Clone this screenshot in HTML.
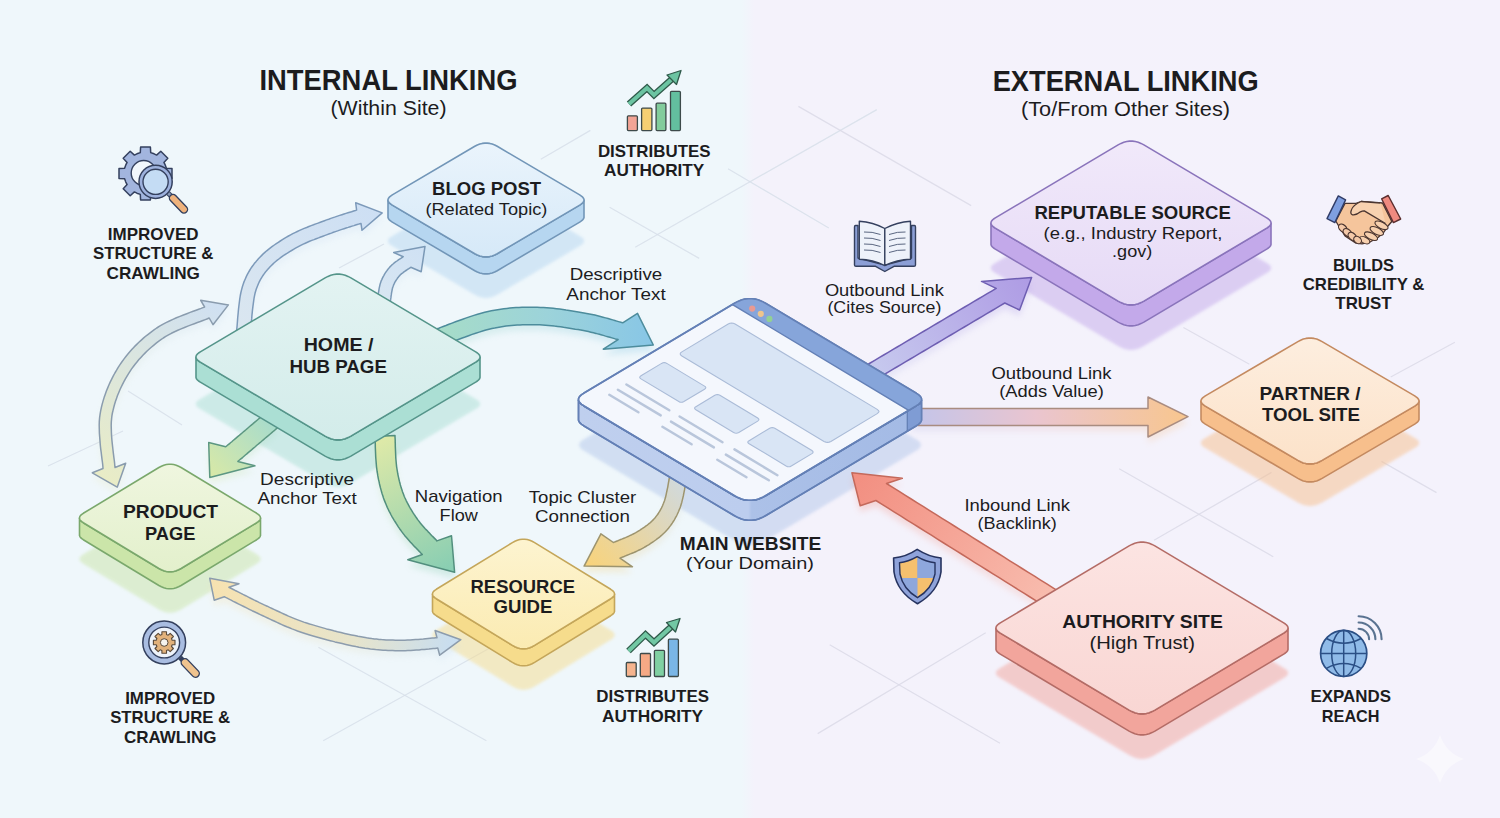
<!DOCTYPE html>
<html><head><meta charset="utf-8"><style>
html,body{margin:0;padding:0;width:1500px;height:818px;overflow:hidden;background:#eef6fb}
svg{display:block}
text{font-family:"Liberation Sans",sans-serif}
</style></head><body>
<svg width="1500" height="818" viewBox="0 0 1500 818">
<defs>
<filter id="blur8" x="-30%" y="-30%" width="160%" height="160%"><feGaussianBlur stdDeviation="7"/></filter>
<filter id="blur3" x="-30%" y="-30%" width="160%" height="160%"><feGaussianBlur stdDeviation="3"/></filter>
<filter id="blur2" x="-30%" y="-30%" width="160%" height="160%"><feGaussianBlur stdDeviation="1.8"/></filter>
<linearGradient id="bgg" x1="0" y1="0" x2="1500" y2="0" gradientUnits="userSpaceOnUse"><stop offset="0" stop-color="#eff7fb"/><stop offset="0.494" stop-color="#eff7fb"/><stop offset="0.503" stop-color="#f4f2fb"/><stop offset="1" stop-color="#f4f2fc"/></linearGradient>
<linearGradient id="ag1" gradientUnits="userSpaceOnUse" x1="244" y1="330" x2="382" y2="213"><stop offset="0" stop-color="#dae6f0"/><stop offset="1" stop-color="#cddff4"/></linearGradient>
<linearGradient id="ag2" gradientUnits="userSpaceOnUse" x1="384" y1="300" x2="425" y2="246"><stop offset="0" stop-color="#d8e6f2"/><stop offset="1" stop-color="#cfe1f4"/></linearGradient>
<linearGradient id="ag3" gradientUnits="userSpaceOnUse" x1="440" y1="330" x2="653" y2="340"><stop offset="0" stop-color="#a6dcc8"/><stop offset="0.5" stop-color="#9cd3da"/><stop offset="1" stop-color="#88c6e6"/></linearGradient>
<linearGradient id="ag4" gradientUnits="userSpaceOnUse" x1="270" y1="422" x2="210" y2="478"><stop offset="0" stop-color="#a9dccb"/><stop offset="1" stop-color="#d9e9a6"/></linearGradient>
<linearGradient id="ag5" gradientUnits="userSpaceOnUse" x1="385" y1="440" x2="455" y2="572"><stop offset="0" stop-color="#dde9a8"/><stop offset="1" stop-color="#86cdb3"/></linearGradient>
<linearGradient id="ag6" gradientUnits="userSpaceOnUse" x1="210" y1="578" x2="461" y2="640"><stop offset="0" stop-color="#f7e2b0"/><stop offset="0.6" stop-color="#e6e4cc"/><stop offset="1" stop-color="#c6ddf2"/></linearGradient>
<linearGradient id="ag7" gradientUnits="userSpaceOnUse" x1="228" y1="305" x2="117" y2="487"><stop offset="0" stop-color="#cfe0f3"/><stop offset="1" stop-color="#e9ecc6"/></linearGradient>
<linearGradient id="ag8" gradientUnits="userSpaceOnUse" x1="676" y1="483" x2="590" y2="566"><stop offset="0" stop-color="#d2d9d9"/><stop offset="1" stop-color="#f8d37c"/></linearGradient>
<linearGradient id="ag9" gradientUnits="userSpaceOnUse" x1="878" y1="368" x2="1032" y2="277"><stop offset="0" stop-color="#c6c8ee"/><stop offset="1" stop-color="#ae9be4"/></linearGradient>
<linearGradient id="ag10" gradientUnits="userSpaceOnUse" x1="912" y1="417" x2="1188" y2="417"><stop offset="0" stop-color="#c3c5ea"/><stop offset="0.45" stop-color="#eac5cf"/><stop offset="1" stop-color="#f8c68e"/></linearGradient>
<linearGradient id="ag11" gradientUnits="userSpaceOnUse" x1="1050" y1="597" x2="852" y2="473"><stop offset="0" stop-color="#f8bcae"/><stop offset="1" stop-color="#f28e80"/></linearGradient>
<linearGradient id="tg12" x1="0" y1="0" x2="0" y2="1"><stop offset="0" stop-color="#eaf4fc"/><stop offset="1" stop-color="#d6e9f8"/></linearGradient>
<linearGradient id="tg13" x1="0" y1="0" x2="0" y2="1"><stop offset="0" stop-color="#e3f3f2"/><stop offset="1" stop-color="#d3ecea"/></linearGradient>
<linearGradient id="tg14" x1="0" y1="0" x2="0" y2="1"><stop offset="0" stop-color="#eff6df"/><stop offset="1" stop-color="#e3f0cc"/></linearGradient>
<linearGradient id="tg15" x1="0" y1="0" x2="0" y2="1"><stop offset="0" stop-color="#fdf4d0"/><stop offset="1" stop-color="#fbebb2"/></linearGradient>
<linearGradient id="tg16" x1="0" y1="0" x2="0" y2="1"><stop offset="0" stop-color="#f1e9fa"/><stop offset="1" stop-color="#e6daf6"/></linearGradient>
<linearGradient id="tg17" x1="0" y1="0" x2="0" y2="1"><stop offset="0" stop-color="#fdeedf"/><stop offset="1" stop-color="#fce2c9"/></linearGradient>
<linearGradient id="tg18" x1="0" y1="0" x2="0" y2="1"><stop offset="0" stop-color="#fce4e2"/><stop offset="1" stop-color="#f9d6d3"/></linearGradient>
<linearGradient id="ag19" gradientUnits="userSpaceOnUse" x1="578" y1="420" x2="922" y2="420"><stop offset="0" stop-color="#bfcfee"/><stop offset="0.495" stop-color="#bccdee"/><stop offset="0.505" stop-color="#acc1e8"/><stop offset="1" stop-color="#a3bae5"/></linearGradient>
</defs>
<rect x="0" y="0" width="1500" height="818" fill="url(#bgg)"/>
<line x1="540.8" y1="159.2" x2="590.4" y2="130.4" stroke="#d8e0ea" stroke-width="1.3" opacity="0.85"/>
<line x1="609.6" y1="207.2" x2="699.2" y2="258.4" stroke="#d8e0ea" stroke-width="1.3" opacity="0.85"/>
<line x1="635.2" y1="247.2" x2="876.8" y2="109.6" stroke="#d8e0ea" stroke-width="1.3" opacity="0.85"/>
<line x1="728" y1="168.8" x2="828.8" y2="228" stroke="#d8e0ea" stroke-width="1.3" opacity="0.85"/>
<line x1="798.4" y1="106.4" x2="971.2" y2="205.6" stroke="#dcdbe8" stroke-width="1.3" opacity="0.85"/>
<line x1="339" y1="268" x2="384" y2="244" stroke="#d8e0ea" stroke-width="1.3" opacity="0.85"/>
<line x1="48" y1="466" x2="123" y2="431" stroke="#d8e0ea" stroke-width="1.3" opacity="0.85"/>
<line x1="128" y1="391" x2="182" y2="425" stroke="#d8e0ea" stroke-width="1.3" opacity="0.85"/>
<line x1="323.2" y1="740.8" x2="491.2" y2="647.2" stroke="#d8e0ea" stroke-width="1.3" opacity="0.85"/>
<line x1="318.4" y1="647.2" x2="486.4" y2="740.8" stroke="#d8e0ea" stroke-width="1.3" opacity="0.85"/>
<line x1="817.7" y1="733.6" x2="985.7" y2="632.8" stroke="#dcdbe8" stroke-width="1.3" opacity="0.85"/>
<line x1="829.7" y1="644.8" x2="1000" y2="743.2" stroke="#dcdbe8" stroke-width="1.3" opacity="0.85"/>
<line x1="1183.4" y1="327.5" x2="1249.4" y2="364.2" stroke="#dcdbe8" stroke-width="1.3" opacity="0.85"/>
<line x1="1390.7" y1="377" x2="1454.9" y2="342.2" stroke="#dcdbe8" stroke-width="1.3" opacity="0.85"/>
<line x1="1381.5" y1="461.4" x2="1436.5" y2="492.6" stroke="#dcdbe8" stroke-width="1.3" opacity="0.85"/>
<line x1="1119.2" y1="468.7" x2="1273.3" y2="556.8" stroke="#dcdbe8" stroke-width="1.3" opacity="0.85"/>
<line x1="1154" y1="540.3" x2="1271.5" y2="472.4" stroke="#dcdbe8" stroke-width="1.3" opacity="0.85"/>
<path d="M474.8 187.3 L477.3 186.0 L479.8 185.1 L482.3 184.4 L484.8 184.1 L487.2 184.1 L489.7 184.4 L492.2 185.1 L494.7 186.0 L497.2 187.3 L579.7 235.9 L581.4 237.1 L582.7 238.2 L583.5 239.3 L584.0 240.4 L584.0 241.6 L583.5 242.7 L582.7 243.8 L581.4 244.9 L579.7 246.1 L497.2 294.7 L494.7 296.0 L492.2 296.9 L489.7 297.6 L487.2 297.9 L484.8 297.9 L482.3 297.6 L479.8 296.9 L477.3 296.0 L474.8 294.7 L392.3 246.1 L390.6 244.9 L389.3 243.8 L388.5 242.7 L388.0 241.6 L388.0 240.4 L388.5 239.3 L389.3 238.2 L390.6 237.1 L392.3 235.9 Z" fill="#b6d6f0" opacity="0.5" filter="url(#blur2)"/>
<path d="M325.1 324.9 L328.0 323.4 L330.8 322.3 L333.7 321.5 L336.6 321.1 L339.4 321.1 L342.3 321.5 L345.2 322.3 L348.0 323.4 L350.9 324.9 L475.7 398.9 L477.4 400.0 L478.7 401.2 L479.6 402.3 L480.0 403.4 L480.0 404.6 L479.6 405.7 L478.7 406.8 L477.4 408.0 L475.7 409.1 L350.9 483.1 L348.0 484.6 L345.2 485.7 L342.3 486.5 L339.4 486.9 L336.6 486.9 L333.7 486.5 L330.8 485.7 L328.0 484.6 L325.1 483.1 L200.3 409.1 L198.6 408.0 L197.3 406.8 L196.4 405.7 L196.0 404.6 L196.0 403.4 L196.4 402.3 L197.3 401.2 L198.6 400.0 L200.3 398.9 Z" fill="#abdfd4" opacity="0.5" filter="url(#blur2)"/>
<path d="M158.9 508.5 L161.4 507.2 L163.8 506.2 L166.3 505.5 L168.8 505.2 L171.2 505.2 L173.7 505.5 L176.2 506.2 L178.6 507.2 L181.1 508.5 L256.7 554.3 L258.2 555.4 L259.4 556.4 L260.1 557.4 L260.5 558.5 L260.5 559.5 L260.1 560.6 L259.4 561.6 L258.2 562.6 L256.7 563.7 L181.1 609.5 L178.6 610.8 L176.2 611.8 L173.7 612.5 L171.2 612.8 L168.8 612.8 L166.3 612.5 L163.8 611.8 L161.4 610.8 L158.9 609.5 L83.3 563.7 L81.8 562.6 L80.6 561.6 L79.9 560.6 L79.5 559.5 L79.5 558.5 L79.9 557.4 L80.6 556.4 L81.8 555.4 L83.3 554.3 Z" fill="#cbe5a9" opacity="0.5" filter="url(#blur2)"/>
<path d="M512.4 583.6 L514.9 582.2 L517.3 581.2 L519.8 580.5 L522.3 580.2 L524.7 580.2 L527.2 580.5 L529.7 581.2 L532.1 582.2 L534.6 583.6 L610.7 630.3 L612.2 631.3 L613.4 632.4 L614.1 633.4 L614.5 634.5 L614.5 635.5 L614.1 636.6 L613.4 637.6 L612.2 638.7 L610.7 639.7 L534.6 686.4 L532.1 687.8 L529.7 688.8 L527.2 689.5 L524.7 689.8 L522.3 689.8 L519.8 689.5 L517.3 688.8 L514.9 687.8 L512.4 686.4 L436.3 639.7 L434.8 638.7 L433.6 637.6 L432.9 636.6 L432.5 635.5 L432.5 634.5 L432.9 633.4 L433.6 632.4 L434.8 631.3 L436.3 630.3 Z" fill="#f6dc8c" opacity="0.5" filter="url(#blur2)"/>
<path d="M1118.1 189.9 L1121.0 188.4 L1123.8 187.3 L1126.7 186.5 L1129.6 186.1 L1132.4 186.1 L1135.3 186.5 L1138.2 187.3 L1141.0 188.4 L1143.9 189.9 L1266.7 262.9 L1268.4 264.0 L1269.7 265.2 L1270.6 266.3 L1271.0 267.4 L1271.0 268.6 L1270.6 269.7 L1269.7 270.8 L1268.4 272.0 L1266.7 273.1 L1143.9 346.1 L1141.0 347.6 L1138.2 348.7 L1135.3 349.5 L1132.4 349.9 L1129.6 349.9 L1126.7 349.5 L1123.8 348.7 L1121.0 347.6 L1118.1 346.1 L995.3 273.1 L993.6 272.0 L992.3 270.8 L991.4 269.7 L991.0 268.6 L991.0 267.4 L991.4 266.3 L992.3 265.2 L993.6 264.0 L995.3 262.9 Z" fill="#c3a9ea" opacity="0.5" filter="url(#blur2)"/>
<path d="M1297.9 383.6 L1300.6 382.2 L1303.3 381.1 L1306.0 380.4 L1308.7 380.1 L1311.3 380.1 L1314.0 380.4 L1316.7 381.1 L1319.4 382.2 L1322.1 383.6 L1414.7 437.9 L1416.4 439.1 L1417.7 440.2 L1418.5 441.3 L1419.0 442.4 L1419.0 443.6 L1418.5 444.7 L1417.7 445.8 L1416.4 446.9 L1414.7 448.1 L1322.1 502.4 L1319.4 503.8 L1316.7 504.9 L1314.0 505.6 L1311.3 505.9 L1308.7 505.9 L1306.0 505.6 L1303.3 504.9 L1300.6 503.8 L1297.9 502.4 L1205.3 448.1 L1203.6 446.9 L1202.3 445.8 L1201.5 444.7 L1201.0 443.6 L1201.0 442.4 L1201.5 441.3 L1202.3 440.2 L1203.6 439.1 L1205.3 437.9 Z" fill="#f7bf8c" opacity="0.5" filter="url(#blur2)"/>
<path d="M1129.1 590.9 L1132.0 589.4 L1134.8 588.3 L1137.7 587.5 L1140.6 587.1 L1143.4 587.1 L1146.3 587.5 L1149.2 588.3 L1152.0 589.4 L1154.9 590.9 L1283.7 667.9 L1285.4 669.0 L1286.7 670.2 L1287.6 671.3 L1288.0 672.4 L1288.0 673.6 L1287.6 674.7 L1286.7 675.8 L1285.4 677.0 L1283.7 678.1 L1154.9 755.1 L1152.0 756.6 L1149.2 757.7 L1146.3 758.5 L1143.4 758.9 L1140.6 758.9 L1137.7 758.5 L1134.8 757.7 L1132.0 756.6 L1129.1 755.1 L1000.3 678.1 L998.6 677.0 L997.3 675.8 L996.4 674.7 L996.0 673.6 L996.0 672.4 L996.4 671.3 L997.3 670.2 L998.6 669.0 L1000.3 667.9 Z" fill="#f2a59c" opacity="0.5" filter="url(#blur2)"/>
<path d="M734.5 349.2 L738.0 347.4 L741.4 346.0 L744.8 345.1 L748.3 344.7 L751.7 344.7 L755.2 345.1 L758.6 346.0 L762.0 347.4 L765.5 349.2 L915.7 438.9 L917.7 440.2 L919.3 441.6 L920.3 443.0 L920.8 444.3 L920.8 445.7 L920.3 447.0 L919.3 448.4 L917.7 449.8 L915.7 451.1 L765.5 540.8 L762.0 542.6 L758.6 544.0 L755.2 544.9 L751.7 545.3 L748.3 545.3 L744.8 544.9 L741.4 544.0 L738.0 542.6 L734.5 540.8 L584.3 451.1 L582.3 449.8 L580.7 448.4 L579.7 447.0 L579.2 445.7 L579.2 444.3 L579.7 443.0 L580.7 441.6 L582.3 440.2 L584.3 438.9 Z" fill="#b4c7ea" opacity="0.5" filter="url(#blur2)"/>
<path d="M250.5 338.8 L250.6 337.2 L250.8 335.2 L251.0 333.0 L251.2 330.5 L251.4 327.8 L251.7 324.9 L251.9 321.9 L252.2 318.9 L252.5 315.8 L252.9 312.7 L253.3 309.6 L253.7 306.7 L254.1 303.9 L254.6 301.3 L255.1 299.0 L255.7 297.0 L256.3 295.1 L257.0 293.2 L257.7 291.5 L258.4 289.8 L259.1 288.2 L259.9 286.7 L260.7 285.2 L261.5 283.8 L262.4 282.4 L263.3 281.0 L264.3 279.6 L265.3 278.3 L266.4 276.9 L267.6 275.6 L268.8 274.2 L270.1 272.8 L271.4 271.5 L272.8 270.1 L274.2 268.8 L275.7 267.5 L277.3 266.2 L278.9 265.0 L280.6 263.7 L282.3 262.4 L284.1 261.2 L286.0 260.0 L287.8 258.8 L289.7 257.6 L291.6 256.5 L293.5 255.3 L295.5 254.2 L297.4 253.1 L299.3 252.1 L301.2 251.1 L303.2 250.1 L305.3 249.2 L307.4 248.3 L309.6 247.3 L311.8 246.4 L314.0 245.6 L316.2 244.7 L318.5 243.9 L320.7 243.0 L322.9 242.2 L325.1 241.4 L327.2 240.6 L329.4 239.8 L331.4 239.1 L333.4 238.3 L335.5 237.6 L337.6 236.9 L339.7 236.1 L341.9 235.4 L344.0 234.7 L346.1 234.0 L348.2 233.4 L350.2 232.7 L352.1 232.1 L353.9 231.6 L355.6 231.0 L357.2 230.5 L358.6 230.1 L359.9 229.7 L361.0 229.4 L362.0 236.3 L382.2 218.9 L355.7 208.8 L356.6 216.0 L355.6 216.4 L354.4 216.7 L353.0 217.2 L351.5 217.7 L349.8 218.2 L347.9 218.8 L346.0 219.4 L344.0 220.0 L341.9 220.7 L339.7 221.4 L337.5 222.1 L335.3 222.9 L333.1 223.6 L330.8 224.4 L328.7 225.2 L326.6 225.9 L324.5 226.7 L322.4 227.5 L320.3 228.3 L318.1 229.1 L315.8 229.9 L313.5 230.8 L311.2 231.6 L308.9 232.5 L306.6 233.5 L304.2 234.4 L301.9 235.4 L299.6 236.4 L297.3 237.5 L295.0 238.6 L292.8 239.7 L290.6 240.9 L288.5 242.0 L286.5 243.2 L284.4 244.4 L282.4 245.7 L280.3 247.0 L278.3 248.3 L276.3 249.6 L274.3 251.0 L272.3 252.4 L270.4 253.8 L268.5 255.3 L266.7 256.8 L264.9 258.4 L263.2 259.9 L261.5 261.6 L259.9 263.2 L258.4 264.8 L257.0 266.4 L255.7 268.0 L254.3 269.6 L253.1 271.3 L251.8 273.0 L250.7 274.7 L249.6 276.5 L248.5 278.3 L247.5 280.2 L246.5 282.1 L245.6 284.2 L244.7 286.2 L243.8 288.4 L243.1 290.6 L242.3 293.0 L241.6 295.6 L240.9 298.5 L240.3 301.5 L239.8 304.6 L239.4 307.8 L239.0 311.0 L238.6 314.3 L238.3 317.5 L238.0 320.7 L237.7 323.7 L237.5 326.6 L237.3 329.3 L237.1 331.8 L236.9 333.9 L236.7 335.7 L236.5 337.2 Z" fill="url(#ag1)" opacity="0.3" filter="url(#blur3)"/><path d="M250.5 332.8 L250.6 331.2 L250.8 329.2 L251.0 327.0 L251.2 324.5 L251.4 321.8 L251.7 318.9 L251.9 315.9 L252.2 312.9 L252.5 309.8 L252.9 306.7 L253.3 303.6 L253.7 300.7 L254.1 297.9 L254.6 295.3 L255.1 293.0 L255.7 291.0 L256.3 289.1 L257.0 287.2 L257.7 285.5 L258.4 283.8 L259.1 282.2 L259.9 280.7 L260.7 279.2 L261.5 277.8 L262.4 276.4 L263.3 275.0 L264.3 273.6 L265.3 272.3 L266.4 270.9 L267.6 269.6 L268.8 268.2 L270.1 266.8 L271.4 265.5 L272.8 264.1 L274.2 262.8 L275.7 261.5 L277.3 260.2 L278.9 259.0 L280.6 257.7 L282.3 256.4 L284.1 255.2 L286.0 254.0 L287.8 252.8 L289.7 251.6 L291.6 250.5 L293.5 249.3 L295.5 248.2 L297.4 247.1 L299.3 246.1 L301.2 245.1 L303.2 244.1 L305.3 243.2 L307.4 242.3 L309.6 241.3 L311.8 240.4 L314.0 239.6 L316.2 238.7 L318.5 237.9 L320.7 237.0 L322.9 236.2 L325.1 235.4 L327.2 234.6 L329.4 233.8 L331.4 233.1 L333.4 232.3 L335.5 231.6 L337.6 230.9 L339.7 230.1 L341.9 229.4 L344.0 228.7 L346.1 228.0 L348.2 227.4 L350.2 226.7 L352.1 226.1 L353.9 225.6 L355.6 225.0 L357.2 224.5 L358.6 224.1 L359.9 223.7 L361.0 223.4 L362.0 230.3 L382.2 212.9 L355.7 202.8 L356.6 210.0 L355.6 210.4 L354.4 210.7 L353.0 211.2 L351.5 211.7 L349.8 212.2 L347.9 212.8 L346.0 213.4 L344.0 214.0 L341.9 214.7 L339.7 215.4 L337.5 216.1 L335.3 216.9 L333.1 217.6 L330.8 218.4 L328.7 219.2 L326.6 219.9 L324.5 220.7 L322.4 221.5 L320.3 222.3 L318.1 223.1 L315.8 223.9 L313.5 224.8 L311.2 225.6 L308.9 226.5 L306.6 227.5 L304.2 228.4 L301.9 229.4 L299.6 230.4 L297.3 231.5 L295.0 232.6 L292.8 233.7 L290.6 234.9 L288.5 236.0 L286.5 237.2 L284.4 238.4 L282.4 239.7 L280.3 241.0 L278.3 242.3 L276.3 243.6 L274.3 245.0 L272.3 246.4 L270.4 247.8 L268.5 249.3 L266.7 250.8 L264.9 252.4 L263.2 253.9 L261.5 255.6 L259.9 257.2 L258.4 258.8 L257.0 260.4 L255.7 262.0 L254.3 263.6 L253.1 265.3 L251.8 267.0 L250.7 268.7 L249.6 270.5 L248.5 272.3 L247.5 274.2 L246.5 276.1 L245.6 278.2 L244.7 280.2 L243.8 282.4 L243.1 284.6 L242.3 287.0 L241.6 289.6 L240.9 292.5 L240.3 295.5 L239.8 298.6 L239.4 301.8 L239.0 305.0 L238.6 308.3 L238.3 311.5 L238.0 314.7 L237.7 317.7 L237.5 320.6 L237.3 323.3 L237.1 325.8 L236.9 327.9 L236.7 329.7 L236.5 331.2 Z" fill="url(#ag1)" stroke="#7d9aba" stroke-width="1.5" stroke-linejoin="round"/>
<path d="M390.4 307.1 L390.5 306.4 L390.6 305.7 L390.7 304.8 L390.9 303.9 L391.0 302.9 L391.1 301.9 L391.3 300.9 L391.4 299.8 L391.6 298.7 L391.8 297.6 L392.0 296.6 L392.2 295.5 L392.4 294.6 L392.6 293.7 L392.9 292.9 L393.1 292.3 L393.4 291.6 L393.7 290.8 L394.0 290.1 L394.4 289.3 L394.7 288.6 L395.1 287.9 L395.5 287.2 L396.0 286.5 L396.4 285.8 L396.9 285.1 L397.3 284.5 L397.8 283.8 L398.3 283.2 L398.8 282.6 L399.3 282.0 L399.8 281.4 L400.2 280.9 L400.8 280.4 L401.4 279.9 L402.1 279.3 L402.8 278.8 L403.6 278.2 L404.4 277.6 L405.2 277.0 L406.0 276.5 L406.8 276.0 L407.6 275.4 L408.3 275.0 L409.0 274.5 L409.7 274.1 L410.3 273.6 L410.8 273.3 L421.2 277.7 L425.0 252.4 L393.7 258.5 L403.2 262.7 L402.8 263.0 L402.4 263.3 L401.9 263.6 L401.2 264.1 L400.4 264.6 L399.6 265.1 L398.7 265.7 L397.8 266.3 L396.9 267.0 L395.9 267.7 L394.9 268.4 L393.9 269.2 L393.0 270.0 L392.0 270.8 L391.1 271.7 L390.2 272.6 L389.5 273.4 L388.8 274.3 L388.1 275.1 L387.4 276.0 L386.8 276.9 L386.1 277.8 L385.5 278.7 L384.9 279.6 L384.3 280.6 L383.8 281.6 L383.2 282.6 L382.7 283.6 L382.2 284.6 L381.8 285.6 L381.3 286.6 L380.9 287.7 L380.5 288.9 L380.1 290.2 L379.8 291.5 L379.5 292.8 L379.2 294.1 L379.0 295.4 L378.8 296.6 L378.6 297.8 L378.4 299.0 L378.2 300.2 L378.1 301.2 L378.0 302.2 L377.9 303.1 L377.8 303.8 L377.7 304.4 L377.6 304.9 Z" fill="url(#ag2)" opacity="0.3" filter="url(#blur3)"/><path d="M390.4 301.1 L390.5 300.4 L390.6 299.7 L390.7 298.8 L390.9 297.9 L391.0 296.9 L391.1 295.9 L391.3 294.9 L391.4 293.8 L391.6 292.7 L391.8 291.6 L392.0 290.6 L392.2 289.5 L392.4 288.6 L392.6 287.7 L392.9 286.9 L393.1 286.3 L393.4 285.6 L393.7 284.8 L394.0 284.1 L394.4 283.3 L394.7 282.6 L395.1 281.9 L395.5 281.2 L396.0 280.5 L396.4 279.8 L396.9 279.1 L397.3 278.5 L397.8 277.8 L398.3 277.2 L398.8 276.6 L399.3 276.0 L399.8 275.4 L400.2 274.9 L400.8 274.4 L401.4 273.9 L402.1 273.3 L402.8 272.8 L403.6 272.2 L404.4 271.6 L405.2 271.0 L406.0 270.5 L406.8 270.0 L407.6 269.4 L408.3 269.0 L409.0 268.5 L409.7 268.1 L410.3 267.6 L410.8 267.3 L421.2 271.7 L425.0 246.4 L393.7 252.5 L403.2 256.7 L402.8 257.0 L402.4 257.3 L401.9 257.6 L401.2 258.1 L400.4 258.6 L399.6 259.1 L398.7 259.7 L397.8 260.3 L396.9 261.0 L395.9 261.7 L394.9 262.4 L393.9 263.2 L393.0 264.0 L392.0 264.8 L391.1 265.7 L390.2 266.6 L389.5 267.4 L388.8 268.3 L388.1 269.1 L387.4 270.0 L386.8 270.9 L386.1 271.8 L385.5 272.7 L384.9 273.6 L384.3 274.6 L383.8 275.6 L383.2 276.6 L382.7 277.6 L382.2 278.6 L381.8 279.6 L381.3 280.6 L380.9 281.7 L380.5 282.9 L380.1 284.2 L379.8 285.5 L379.5 286.8 L379.2 288.1 L379.0 289.4 L378.8 290.6 L378.6 291.8 L378.4 293.0 L378.2 294.2 L378.1 295.2 L378.0 296.2 L377.9 297.1 L377.8 297.8 L377.7 298.4 L377.6 298.9 Z" fill="url(#ag2)" stroke="#7b99b6" stroke-width="1.5" stroke-linejoin="round"/>
<path d="M442.9 351.3 L444.7 350.6 L446.9 349.8 L449.4 348.9 L452.2 347.8 L455.1 346.7 L458.3 345.5 L461.6 344.2 L465.1 343.0 L468.6 341.7 L472.1 340.4 L475.7 339.2 L479.2 338.1 L482.6 337.0 L485.9 336.0 L489.0 335.2 L491.9 334.5 L494.7 334.0 L497.6 333.4 L500.4 332.9 L503.2 332.5 L506.0 332.1 L508.8 331.8 L511.5 331.5 L514.3 331.3 L517.1 331.1 L519.9 330.9 L522.6 330.8 L525.4 330.7 L528.3 330.7 L531.1 330.7 L533.9 330.7 L536.8 330.7 L539.6 330.8 L542.5 331.0 L545.5 331.2 L548.4 331.4 L551.4 331.7 L554.5 332.1 L557.5 332.4 L560.5 332.8 L563.6 333.3 L566.5 333.7 L569.5 334.2 L572.4 334.7 L575.3 335.2 L578.1 335.6 L580.8 336.1 L583.4 336.6 L585.9 337.1 L588.4 337.6 L590.9 338.2 L593.5 338.8 L596.0 339.4 L598.5 340.1 L601.0 340.7 L603.3 341.4 L605.6 342.1 L607.8 342.7 L609.9 343.3 L611.9 343.9 L613.7 344.4 L615.3 344.9 L616.9 345.3 L618.1 345.6 L603.3 355.2 L653.3 351.0 L637.5 319.3 L622.7 328.8 L621.5 328.4 L620.2 328.1 L618.6 327.6 L616.8 327.1 L614.8 326.5 L612.7 325.9 L610.4 325.2 L608.1 324.6 L605.6 323.9 L603.0 323.2 L600.4 322.5 L597.6 321.8 L594.9 321.1 L592.1 320.5 L589.3 319.9 L586.6 319.4 L583.9 318.9 L581.1 318.4 L578.3 317.9 L575.3 317.4 L572.3 316.9 L569.2 316.4 L566.1 316.0 L562.9 315.5 L559.7 315.1 L556.5 314.7 L553.3 314.3 L550.0 314.0 L546.8 313.7 L543.6 313.5 L540.4 313.4 L537.2 313.3 L534.1 313.2 L531.1 313.2 L528.1 313.2 L525.1 313.2 L522.0 313.3 L519.0 313.5 L516.0 313.6 L512.9 313.8 L509.9 314.1 L506.8 314.4 L503.8 314.8 L500.7 315.2 L497.6 315.7 L494.5 316.2 L491.3 316.8 L488.1 317.5 L484.7 318.3 L481.2 319.2 L477.6 320.2 L473.9 321.4 L470.1 322.6 L466.4 323.9 L462.7 325.2 L459.1 326.5 L455.5 327.8 L452.1 329.1 L448.9 330.3 L445.9 331.5 L443.2 332.5 L440.8 333.4 L438.8 334.2 L437.1 334.7 Z" fill="url(#ag3)" opacity="0.3" filter="url(#blur3)"/><path d="M442.9 345.3 L444.7 344.6 L446.9 343.8 L449.4 342.9 L452.2 341.8 L455.1 340.7 L458.3 339.5 L461.6 338.2 L465.1 337.0 L468.6 335.7 L472.1 334.4 L475.7 333.2 L479.2 332.1 L482.6 331.0 L485.9 330.0 L489.0 329.2 L491.9 328.5 L494.7 328.0 L497.6 327.4 L500.4 326.9 L503.2 326.5 L506.0 326.1 L508.8 325.8 L511.5 325.5 L514.3 325.3 L517.1 325.1 L519.9 324.9 L522.6 324.8 L525.4 324.7 L528.3 324.7 L531.1 324.7 L533.9 324.7 L536.8 324.7 L539.6 324.8 L542.5 325.0 L545.5 325.2 L548.4 325.4 L551.4 325.7 L554.5 326.1 L557.5 326.4 L560.5 326.8 L563.6 327.3 L566.5 327.7 L569.5 328.2 L572.4 328.7 L575.3 329.2 L578.1 329.6 L580.8 330.1 L583.4 330.6 L585.9 331.1 L588.4 331.6 L590.9 332.2 L593.5 332.8 L596.0 333.4 L598.5 334.1 L601.0 334.7 L603.3 335.4 L605.6 336.1 L607.8 336.7 L609.9 337.3 L611.9 337.9 L613.7 338.4 L615.3 338.9 L616.9 339.3 L618.1 339.6 L603.3 349.2 L653.3 345.0 L637.5 313.3 L622.7 322.8 L621.5 322.4 L620.2 322.1 L618.6 321.6 L616.8 321.1 L614.8 320.5 L612.7 319.9 L610.4 319.2 L608.1 318.6 L605.6 317.9 L603.0 317.2 L600.4 316.5 L597.6 315.8 L594.9 315.1 L592.1 314.5 L589.3 313.9 L586.6 313.4 L583.9 312.9 L581.1 312.4 L578.3 311.9 L575.3 311.4 L572.3 310.9 L569.2 310.4 L566.1 310.0 L562.9 309.5 L559.7 309.1 L556.5 308.7 L553.3 308.3 L550.0 308.0 L546.8 307.7 L543.6 307.5 L540.4 307.4 L537.2 307.3 L534.1 307.2 L531.1 307.2 L528.1 307.2 L525.1 307.2 L522.0 307.3 L519.0 307.5 L516.0 307.6 L512.9 307.8 L509.9 308.1 L506.8 308.4 L503.8 308.8 L500.7 309.2 L497.6 309.7 L494.5 310.2 L491.3 310.8 L488.1 311.5 L484.7 312.3 L481.2 313.2 L477.6 314.2 L473.9 315.4 L470.1 316.6 L466.4 317.9 L462.7 319.2 L459.1 320.5 L455.5 321.8 L452.1 323.1 L448.9 324.3 L445.9 325.5 L443.2 326.5 L440.8 327.4 L438.8 328.2 L437.1 328.7 Z" fill="url(#ag3)" stroke="#4d8c9c" stroke-width="1.5" stroke-linejoin="round"/>
<path d="M265.8 418.8 L265.1 419.4 L264.3 420.1 L263.3 420.9 L262.3 421.8 L261.1 422.8 L259.8 423.9 L258.5 425.0 L257.1 426.2 L255.7 427.4 L254.2 428.6 L252.8 429.9 L251.3 431.1 L249.9 432.3 L248.5 433.5 L247.1 434.7 L245.9 435.8 L244.6 436.9 L243.2 438.0 L241.8 439.2 L240.4 440.4 L238.9 441.7 L237.4 442.9 L236.0 444.1 L234.5 445.4 L233.1 446.5 L231.8 447.7 L230.5 448.8 L229.3 449.8 L228.2 450.7 L227.2 451.5 L226.4 452.2 L225.7 452.8 L208.7 448.4 L209.8 483.6 L254.9 471.8 L237.9 467.4 L238.6 466.8 L239.5 466.0 L240.5 465.2 L241.6 464.3 L242.8 463.3 L244.0 462.2 L245.4 461.0 L246.8 459.9 L248.2 458.6 L249.7 457.4 L251.2 456.2 L252.6 454.9 L254.1 453.7 L255.5 452.5 L256.8 451.3 L258.1 450.2 L259.4 449.1 L260.8 448.0 L262.2 446.8 L263.6 445.6 L265.1 444.3 L266.5 443.1 L268.0 441.9 L269.4 440.7 L270.8 439.5 L272.1 438.4 L273.4 437.3 L274.6 436.3 L275.6 435.4 L276.6 434.5 L277.5 433.8 L278.2 433.2 Z" fill="url(#ag4)" opacity="0.3" filter="url(#blur3)"/><path d="M265.8 412.8 L265.1 413.4 L264.3 414.1 L263.3 414.9 L262.3 415.8 L261.1 416.8 L259.8 417.9 L258.5 419.0 L257.1 420.2 L255.7 421.4 L254.2 422.6 L252.8 423.9 L251.3 425.1 L249.9 426.3 L248.5 427.5 L247.1 428.7 L245.9 429.8 L244.6 430.9 L243.2 432.0 L241.8 433.2 L240.4 434.4 L238.9 435.7 L237.4 436.9 L236.0 438.1 L234.5 439.4 L233.1 440.5 L231.8 441.7 L230.5 442.8 L229.3 443.8 L228.2 444.7 L227.2 445.5 L226.4 446.2 L225.7 446.8 L208.7 442.4 L209.8 477.6 L254.9 465.8 L237.9 461.4 L238.6 460.8 L239.5 460.0 L240.5 459.2 L241.6 458.3 L242.8 457.3 L244.0 456.2 L245.4 455.0 L246.8 453.9 L248.2 452.6 L249.7 451.4 L251.2 450.2 L252.6 448.9 L254.1 447.7 L255.5 446.5 L256.8 445.3 L258.1 444.2 L259.4 443.1 L260.8 442.0 L262.2 440.8 L263.6 439.6 L265.1 438.3 L266.5 437.1 L268.0 435.9 L269.4 434.7 L270.8 433.5 L272.1 432.4 L273.4 431.3 L274.6 430.3 L275.6 429.4 L276.6 428.5 L277.5 427.8 L278.2 427.2 Z" fill="url(#ag4)" stroke="#5c9782" stroke-width="1.5" stroke-linejoin="round"/>
<path d="M375.0 442.5 L375.1 443.6 L375.1 445.0 L375.2 446.6 L375.2 448.5 L375.3 450.5 L375.3 452.7 L375.4 455.1 L375.5 457.5 L375.6 460.0 L375.7 462.6 L375.9 465.2 L376.1 467.7 L376.3 470.3 L376.5 472.8 L376.8 475.2 L377.1 477.5 L377.5 479.6 L377.8 481.7 L378.2 483.8 L378.6 485.9 L379.1 487.9 L379.5 490.0 L380.0 492.0 L380.5 494.0 L381.1 496.1 L381.6 498.1 L382.2 500.0 L382.9 502.0 L383.5 504.0 L384.2 505.9 L385.0 507.9 L385.8 509.8 L386.6 511.7 L387.4 513.6 L388.3 515.5 L389.2 517.4 L390.2 519.2 L391.1 521.0 L392.1 522.8 L393.2 524.6 L394.2 526.3 L395.3 528.0 L396.3 529.7 L397.4 531.4 L398.5 533.1 L399.6 534.7 L400.8 536.3 L401.9 537.9 L403.2 539.6 L404.6 541.4 L406.0 543.1 L407.5 544.8 L409.0 546.5 L410.5 548.2 L412.0 549.8 L413.5 551.4 L414.9 552.9 L416.3 554.3 L417.6 555.6 L418.8 556.9 L419.9 558.0 L420.8 559.0 L421.6 559.8 L422.3 560.5 L407.8 565.7 L454.6 578.2 L451.5 541.8 L436.9 546.9 L436.2 546.1 L435.3 545.1 L434.3 544.1 L433.1 542.9 L431.9 541.7 L430.7 540.4 L429.4 539.0 L428.0 537.6 L426.6 536.1 L425.2 534.7 L423.9 533.2 L422.6 531.7 L421.3 530.2 L420.1 528.8 L419.1 527.4 L418.1 526.1 L417.1 524.7 L416.1 523.3 L415.1 521.8 L414.1 520.4 L413.1 518.9 L412.2 517.4 L411.3 515.9 L410.4 514.5 L409.5 512.9 L408.7 511.4 L407.9 509.9 L407.1 508.4 L406.3 506.8 L405.6 505.3 L404.9 503.8 L404.2 502.2 L403.6 500.6 L403.0 499.0 L402.4 497.4 L401.9 495.7 L401.3 494.1 L400.8 492.4 L400.3 490.7 L399.9 489.0 L399.4 487.2 L399.0 485.5 L398.6 483.7 L398.2 481.9 L397.8 480.0 L397.5 478.2 L397.2 476.3 L396.9 474.5 L396.6 472.6 L396.4 470.7 L396.2 468.5 L396.0 466.2 L395.8 463.9 L395.7 461.5 L395.6 459.1 L395.5 456.7 L395.4 454.4 L395.3 452.1 L395.3 450.0 L395.2 447.9 L395.2 446.0 L395.1 444.3 L395.0 442.8 L395.0 441.5 Z" fill="url(#ag5)" opacity="0.3" filter="url(#blur3)"/><path d="M375.0 436.5 L375.1 437.6 L375.1 439.0 L375.2 440.6 L375.2 442.5 L375.3 444.5 L375.3 446.7 L375.4 449.1 L375.5 451.5 L375.6 454.0 L375.7 456.6 L375.9 459.2 L376.1 461.7 L376.3 464.3 L376.5 466.8 L376.8 469.2 L377.1 471.5 L377.5 473.6 L377.8 475.7 L378.2 477.8 L378.6 479.9 L379.1 481.9 L379.5 484.0 L380.0 486.0 L380.5 488.0 L381.1 490.1 L381.6 492.1 L382.2 494.0 L382.9 496.0 L383.5 498.0 L384.2 499.9 L385.0 501.9 L385.8 503.8 L386.6 505.7 L387.4 507.6 L388.3 509.5 L389.2 511.4 L390.2 513.2 L391.1 515.0 L392.1 516.8 L393.2 518.6 L394.2 520.3 L395.3 522.0 L396.3 523.7 L397.4 525.4 L398.5 527.1 L399.6 528.7 L400.8 530.3 L401.9 531.9 L403.2 533.6 L404.6 535.4 L406.0 537.1 L407.5 538.8 L409.0 540.5 L410.5 542.2 L412.0 543.8 L413.5 545.4 L414.9 546.9 L416.3 548.3 L417.6 549.6 L418.8 550.9 L419.9 552.0 L420.8 553.0 L421.6 553.8 L422.3 554.5 L407.8 559.7 L454.6 572.2 L451.5 535.8 L436.9 540.9 L436.2 540.1 L435.3 539.1 L434.3 538.1 L433.1 536.9 L431.9 535.7 L430.7 534.4 L429.4 533.0 L428.0 531.6 L426.6 530.1 L425.2 528.7 L423.9 527.2 L422.6 525.7 L421.3 524.2 L420.1 522.8 L419.1 521.4 L418.1 520.1 L417.1 518.7 L416.1 517.3 L415.1 515.8 L414.1 514.4 L413.1 512.9 L412.2 511.4 L411.3 509.9 L410.4 508.5 L409.5 506.9 L408.7 505.4 L407.9 503.9 L407.1 502.4 L406.3 500.8 L405.6 499.3 L404.9 497.8 L404.2 496.2 L403.6 494.6 L403.0 493.0 L402.4 491.4 L401.9 489.7 L401.3 488.1 L400.8 486.4 L400.3 484.7 L399.9 483.0 L399.4 481.2 L399.0 479.5 L398.6 477.7 L398.2 475.9 L397.8 474.0 L397.5 472.2 L397.2 470.3 L396.9 468.5 L396.6 466.6 L396.4 464.7 L396.2 462.5 L396.0 460.2 L395.8 457.9 L395.7 455.5 L395.6 453.1 L395.5 450.7 L395.4 448.4 L395.3 446.1 L395.3 444.0 L395.2 441.9 L395.2 440.0 L395.1 438.3 L395.0 436.8 L395.0 435.5 Z" fill="url(#ag5)" stroke="#528f7e" stroke-width="1.5" stroke-linejoin="round"/>
<path d="M224.3 602.7 L225.6 603.4 L227.2 604.2 L229.0 605.1 L231.1 606.1 L233.3 607.3 L235.7 608.5 L238.3 609.8 L240.9 611.1 L243.7 612.5 L246.5 613.9 L249.3 615.3 L252.1 616.7 L254.9 618.0 L257.6 619.3 L260.3 620.6 L262.8 621.8 L265.2 622.9 L267.6 624.0 L270.0 625.1 L272.3 626.2 L274.7 627.3 L277.0 628.4 L279.4 629.5 L281.8 630.6 L284.3 631.7 L286.8 632.8 L289.4 633.8 L292.0 634.9 L294.7 635.9 L297.5 637.0 L300.4 638.0 L303.4 639.0 L306.5 640.0 L309.7 641.0 L313.1 642.0 L316.6 643.0 L320.2 644.0 L323.8 645.0 L327.5 646.0 L331.2 646.9 L334.9 647.9 L338.6 648.8 L342.2 649.6 L345.8 650.4 L349.3 651.2 L352.7 651.9 L355.9 652.6 L359.0 653.2 L362.0 653.7 L364.9 654.2 L367.7 654.6 L370.4 655.0 L373.1 655.3 L375.7 655.6 L378.2 655.8 L380.7 656.0 L383.1 656.2 L385.6 656.3 L388.0 656.5 L390.4 656.5 L392.7 656.6 L395.1 656.7 L397.5 656.7 L400.0 656.7 L402.5 656.8 L405.2 656.7 L407.9 656.6 L410.7 656.5 L413.5 656.3 L416.3 656.1 L419.0 655.9 L421.7 655.6 L424.3 655.4 L426.7 655.2 L429.1 655.0 L431.3 654.7 L433.2 654.5 L435.0 654.4 L436.5 654.2 L437.8 654.1 L439.7 661.2 L460.8 645.7 L435.1 636.5 L437.0 643.7 L435.7 643.8 L434.0 643.9 L432.2 644.1 L430.2 644.3 L428.0 644.5 L425.7 644.7 L423.3 645.0 L420.7 645.2 L418.1 645.4 L415.5 645.6 L412.8 645.8 L410.1 646.0 L407.5 646.1 L404.9 646.2 L402.4 646.3 L400.0 646.3 L397.7 646.2 L395.3 646.2 L393.0 646.1 L390.7 646.1 L388.4 646.0 L386.1 645.9 L383.8 645.7 L381.5 645.6 L379.1 645.4 L376.7 645.1 L374.3 644.9 L371.8 644.6 L369.2 644.2 L366.6 643.8 L363.8 643.3 L361.0 642.8 L358.0 642.3 L354.8 641.6 L351.5 640.9 L348.1 640.2 L344.6 639.4 L341.0 638.5 L337.4 637.7 L333.8 636.8 L330.2 635.8 L326.5 634.9 L323.0 633.9 L319.5 632.9 L316.1 631.9 L312.8 630.9 L309.6 630.0 L306.6 629.0 L303.8 628.1 L301.1 627.1 L298.4 626.1 L295.8 625.1 L293.3 624.1 L290.9 623.1 L288.5 622.1 L286.1 621.0 L283.8 620.0 L281.4 618.9 L279.1 617.8 L276.8 616.7 L274.4 615.6 L272.0 614.5 L269.6 613.4 L267.2 612.2 L264.7 611.1 L262.1 609.9 L259.4 608.6 L256.7 607.2 L253.9 605.9 L251.1 604.5 L248.4 603.1 L245.7 601.7 L243.0 600.4 L240.5 599.1 L238.1 597.9 L235.8 596.8 L233.8 595.7 L231.9 594.8 L230.3 594.0 L228.9 593.3 L239.0 589.7 L209.7 584.2 L214.2 606.2 Z" fill="url(#ag6)" opacity="0.3" filter="url(#blur3)"/><path d="M224.3 596.7 L225.6 597.4 L227.2 598.2 L229.0 599.1 L231.1 600.1 L233.3 601.3 L235.7 602.5 L238.3 603.8 L240.9 605.1 L243.7 606.5 L246.5 607.9 L249.3 609.3 L252.1 610.7 L254.9 612.0 L257.6 613.3 L260.3 614.6 L262.8 615.8 L265.2 616.9 L267.6 618.0 L270.0 619.1 L272.3 620.2 L274.7 621.3 L277.0 622.4 L279.4 623.5 L281.8 624.6 L284.3 625.7 L286.8 626.8 L289.4 627.8 L292.0 628.9 L294.7 629.9 L297.5 631.0 L300.4 632.0 L303.4 633.0 L306.5 634.0 L309.7 635.0 L313.1 636.0 L316.6 637.0 L320.2 638.0 L323.8 639.0 L327.5 640.0 L331.2 640.9 L334.9 641.9 L338.6 642.8 L342.2 643.6 L345.8 644.4 L349.3 645.2 L352.7 645.9 L355.9 646.6 L359.0 647.2 L362.0 647.7 L364.9 648.2 L367.7 648.6 L370.4 649.0 L373.1 649.3 L375.7 649.6 L378.2 649.8 L380.7 650.0 L383.1 650.2 L385.6 650.3 L388.0 650.5 L390.4 650.5 L392.7 650.6 L395.1 650.7 L397.5 650.7 L400.0 650.7 L402.5 650.8 L405.2 650.7 L407.9 650.6 L410.7 650.5 L413.5 650.3 L416.3 650.1 L419.0 649.9 L421.7 649.6 L424.3 649.4 L426.7 649.2 L429.1 649.0 L431.3 648.7 L433.2 648.5 L435.0 648.4 L436.5 648.2 L437.8 648.1 L439.7 655.2 L460.8 639.7 L435.1 630.5 L437.0 637.7 L435.7 637.8 L434.0 637.9 L432.2 638.1 L430.2 638.3 L428.0 638.5 L425.7 638.7 L423.3 639.0 L420.7 639.2 L418.1 639.4 L415.5 639.6 L412.8 639.8 L410.1 640.0 L407.5 640.1 L404.9 640.2 L402.4 640.3 L400.0 640.3 L397.7 640.2 L395.3 640.2 L393.0 640.1 L390.7 640.1 L388.4 640.0 L386.1 639.9 L383.8 639.7 L381.5 639.6 L379.1 639.4 L376.7 639.1 L374.3 638.9 L371.8 638.6 L369.2 638.2 L366.6 637.8 L363.8 637.3 L361.0 636.8 L358.0 636.3 L354.8 635.6 L351.5 634.9 L348.1 634.2 L344.6 633.4 L341.0 632.5 L337.4 631.7 L333.8 630.8 L330.2 629.8 L326.5 628.9 L323.0 627.9 L319.5 626.9 L316.1 625.9 L312.8 624.9 L309.6 624.0 L306.6 623.0 L303.8 622.1 L301.1 621.1 L298.4 620.1 L295.8 619.1 L293.3 618.1 L290.9 617.1 L288.5 616.1 L286.1 615.0 L283.8 614.0 L281.4 612.9 L279.1 611.8 L276.8 610.7 L274.4 609.6 L272.0 608.5 L269.6 607.4 L267.2 606.2 L264.7 605.1 L262.1 603.9 L259.4 602.6 L256.7 601.2 L253.9 599.9 L251.1 598.5 L248.4 597.1 L245.7 595.7 L243.0 594.4 L240.5 593.1 L238.1 591.9 L235.8 590.8 L233.8 589.7 L231.9 588.8 L230.3 588.0 L228.9 587.3 L239.0 583.7 L209.7 578.2 L214.2 600.2 Z" fill="url(#ag6)" stroke="#8c9cad" stroke-width="1.5" stroke-linejoin="round"/>
<path d="M204.6 313.0 L203.0 313.6 L201.1 314.4 L198.7 315.2 L196.1 316.2 L193.2 317.3 L190.1 318.4 L186.8 319.7 L183.4 321.0 L180.0 322.4 L176.4 323.8 L172.9 325.4 L169.4 327.0 L166.0 328.6 L162.7 330.3 L159.6 332.1 L156.7 334.0 L154.0 335.9 L151.4 337.8 L148.8 339.8 L146.2 341.8 L143.7 343.9 L141.3 346.1 L138.9 348.3 L136.5 350.6 L134.2 352.9 L132.0 355.3 L129.8 357.8 L127.7 360.3 L125.7 362.8 L123.7 365.4 L121.8 368.0 L120.0 370.7 L118.2 373.4 L116.6 376.2 L114.9 379.0 L113.3 381.9 L111.8 384.9 L110.3 387.9 L108.9 391.0 L107.6 394.1 L106.3 397.2 L105.2 400.4 L104.1 403.6 L103.1 406.9 L102.2 410.1 L101.4 413.4 L100.7 416.7 L100.1 420.1 L99.6 423.7 L99.3 427.4 L99.2 431.3 L99.3 435.2 L99.4 439.2 L99.7 443.2 L100.0 447.1 L100.3 451.0 L100.7 454.8 L101.2 458.5 L101.6 461.9 L102.0 465.1 L102.4 468.0 L102.7 470.5 L102.9 472.7 L103.0 474.5 L92.3 478.8 L117.2 493.2 L125.7 469.3 L115.0 473.5 L114.8 471.6 L114.6 469.2 L114.3 466.5 L113.9 463.6 L113.5 460.4 L113.1 457.0 L112.7 453.5 L112.3 449.8 L111.9 446.1 L111.6 442.3 L111.4 438.6 L111.3 434.9 L111.2 431.4 L111.3 428.0 L111.6 424.8 L111.9 421.9 L112.4 419.0 L113.1 416.1 L113.8 413.2 L114.6 410.2 L115.5 407.3 L116.5 404.4 L117.5 401.5 L118.7 398.7 L119.9 395.8 L121.2 393.0 L122.5 390.3 L123.9 387.6 L125.4 384.9 L126.9 382.3 L128.4 379.8 L130.0 377.3 L131.6 374.9 L133.4 372.5 L135.1 370.2 L137.0 367.9 L138.9 365.6 L140.9 363.4 L142.9 361.2 L145.0 359.1 L147.1 357.0 L149.3 355.0 L151.6 353.0 L153.9 351.1 L156.2 349.2 L158.5 347.4 L160.9 345.7 L163.3 344.0 L165.8 342.4 L168.5 340.9 L171.4 339.3 L174.6 337.8 L177.8 336.3 L181.1 334.9 L184.5 333.5 L187.8 332.1 L191.1 330.9 L194.3 329.7 L197.4 328.5 L200.3 327.5 L202.9 326.5 L205.3 325.6 L207.5 324.8 L209.2 324.0 L213.0 330.7 L228.4 310.9 L200.7 306.3 Z" fill="url(#ag7)" opacity="0.3" filter="url(#blur3)"/><path d="M204.6 307.0 L203.0 307.6 L201.1 308.4 L198.7 309.2 L196.1 310.2 L193.2 311.3 L190.1 312.4 L186.8 313.7 L183.4 315.0 L180.0 316.4 L176.4 317.8 L172.9 319.4 L169.4 321.0 L166.0 322.6 L162.7 324.3 L159.6 326.1 L156.7 328.0 L154.0 329.9 L151.4 331.8 L148.8 333.8 L146.2 335.8 L143.7 337.9 L141.3 340.1 L138.9 342.3 L136.5 344.6 L134.2 346.9 L132.0 349.3 L129.8 351.8 L127.7 354.3 L125.7 356.8 L123.7 359.4 L121.8 362.0 L120.0 364.7 L118.2 367.4 L116.6 370.2 L114.9 373.0 L113.3 375.9 L111.8 378.9 L110.3 381.9 L108.9 385.0 L107.6 388.1 L106.3 391.2 L105.2 394.4 L104.1 397.6 L103.1 400.9 L102.2 404.1 L101.4 407.4 L100.7 410.7 L100.1 414.1 L99.6 417.7 L99.3 421.4 L99.2 425.3 L99.3 429.2 L99.4 433.2 L99.7 437.2 L100.0 441.1 L100.3 445.0 L100.7 448.8 L101.2 452.5 L101.6 455.9 L102.0 459.1 L102.4 462.0 L102.7 464.5 L102.9 466.7 L103.0 468.5 L92.3 472.8 L117.2 487.2 L125.7 463.3 L115.0 467.5 L114.8 465.6 L114.6 463.2 L114.3 460.5 L113.9 457.6 L113.5 454.4 L113.1 451.0 L112.7 447.5 L112.3 443.8 L111.9 440.1 L111.6 436.3 L111.4 432.6 L111.3 428.9 L111.2 425.4 L111.3 422.0 L111.6 418.8 L111.9 415.9 L112.4 413.0 L113.1 410.1 L113.8 407.2 L114.6 404.2 L115.5 401.3 L116.5 398.4 L117.5 395.5 L118.7 392.7 L119.9 389.8 L121.2 387.0 L122.5 384.3 L123.9 381.6 L125.4 378.9 L126.9 376.3 L128.4 373.8 L130.0 371.3 L131.6 368.9 L133.4 366.5 L135.1 364.2 L137.0 361.9 L138.9 359.6 L140.9 357.4 L142.9 355.2 L145.0 353.1 L147.1 351.0 L149.3 349.0 L151.6 347.0 L153.9 345.1 L156.2 343.2 L158.5 341.4 L160.9 339.7 L163.3 338.0 L165.8 336.4 L168.5 334.9 L171.4 333.3 L174.6 331.8 L177.8 330.3 L181.1 328.9 L184.5 327.5 L187.8 326.1 L191.1 324.9 L194.3 323.7 L197.4 322.5 L200.3 321.5 L202.9 320.5 L205.3 319.6 L207.5 318.8 L209.2 318.0 L213.0 324.7 L228.4 304.9 L200.7 300.3 Z" fill="url(#ag7)" stroke="#8a9cae" stroke-width="1.5" stroke-linejoin="round"/>
<path d="M669.7 482.3 L669.5 483.3 L669.2 484.6 L669.0 486.0 L668.7 487.5 L668.4 489.2 L668.1 490.9 L667.8 492.8 L667.4 494.6 L667.0 496.5 L666.6 498.4 L666.2 500.3 L665.8 502.1 L665.4 503.8 L664.9 505.4 L664.5 506.8 L664.0 508.0 L663.5 509.3 L663.0 510.5 L662.5 511.8 L661.9 513.0 L661.4 514.1 L660.8 515.2 L660.2 516.3 L659.6 517.4 L658.9 518.4 L658.3 519.5 L657.6 520.5 L656.9 521.4 L656.1 522.4 L655.4 523.4 L654.6 524.3 L653.7 525.3 L652.9 526.1 L652.0 527.0 L651.1 527.9 L650.1 528.8 L649.0 529.7 L648.0 530.5 L646.9 531.4 L645.7 532.2 L644.5 533.1 L643.3 533.9 L642.1 534.7 L640.8 535.5 L639.6 536.3 L638.3 537.1 L637.0 537.9 L635.8 538.6 L634.5 539.3 L633.2 540.0 L631.8 540.7 L630.3 541.4 L628.7 542.2 L627.1 542.9 L625.5 543.6 L623.9 544.2 L622.3 544.9 L620.7 545.5 L619.2 546.1 L617.8 546.7 L616.5 547.2 L615.3 547.7 L614.2 548.1 L613.4 548.5 L600.9 539.8 L584.1 572.1 L632.5 572.8 L620.0 564.1 L620.8 563.8 L621.7 563.4 L622.8 563.0 L624.1 562.5 L625.5 561.9 L627.0 561.3 L628.7 560.6 L630.3 559.9 L632.1 559.2 L633.9 558.5 L635.7 557.7 L637.4 556.9 L639.2 556.0 L641.0 555.2 L642.6 554.3 L644.2 553.4 L645.7 552.5 L647.1 551.6 L648.6 550.8 L650.0 549.9 L651.4 548.9 L652.9 548.0 L654.3 547.0 L655.7 546.0 L657.1 544.9 L658.5 543.9 L659.9 542.8 L661.2 541.6 L662.5 540.5 L663.8 539.3 L665.1 538.0 L666.3 536.7 L667.4 535.5 L668.5 534.2 L669.5 532.9 L670.5 531.6 L671.5 530.2 L672.4 528.9 L673.3 527.5 L674.2 526.1 L675.0 524.7 L675.8 523.2 L676.6 521.8 L677.3 520.3 L678.0 518.7 L678.7 517.2 L679.3 515.6 L680.0 514.0 L680.6 512.2 L681.2 510.2 L681.8 508.2 L682.3 506.1 L682.8 504.1 L683.3 502.0 L683.7 499.9 L684.1 497.9 L684.5 495.9 L684.8 494.0 L685.1 492.2 L685.4 490.5 L685.7 489.0 L685.9 487.7 L686.1 486.6 L686.3 485.7 Z" fill="url(#ag8)" opacity="0.3" filter="url(#blur3)"/><path d="M669.7 476.3 L669.5 477.3 L669.2 478.6 L669.0 480.0 L668.7 481.5 L668.4 483.2 L668.1 484.9 L667.8 486.8 L667.4 488.6 L667.0 490.5 L666.6 492.4 L666.2 494.3 L665.8 496.1 L665.4 497.8 L664.9 499.4 L664.5 500.8 L664.0 502.0 L663.5 503.3 L663.0 504.5 L662.5 505.8 L661.9 507.0 L661.4 508.1 L660.8 509.2 L660.2 510.3 L659.6 511.4 L658.9 512.4 L658.3 513.5 L657.6 514.5 L656.9 515.4 L656.1 516.4 L655.4 517.4 L654.6 518.3 L653.7 519.3 L652.9 520.1 L652.0 521.0 L651.1 521.9 L650.1 522.8 L649.0 523.7 L648.0 524.5 L646.9 525.4 L645.7 526.2 L644.5 527.1 L643.3 527.9 L642.1 528.7 L640.8 529.5 L639.6 530.3 L638.3 531.1 L637.0 531.9 L635.8 532.6 L634.5 533.3 L633.2 534.0 L631.8 534.7 L630.3 535.4 L628.7 536.2 L627.1 536.9 L625.5 537.6 L623.9 538.2 L622.3 538.9 L620.7 539.5 L619.2 540.1 L617.8 540.7 L616.5 541.2 L615.3 541.7 L614.2 542.1 L613.4 542.5 L600.9 533.8 L584.1 566.1 L632.5 566.8 L620.0 558.1 L620.8 557.8 L621.7 557.4 L622.8 557.0 L624.1 556.5 L625.5 555.9 L627.0 555.3 L628.7 554.6 L630.3 553.9 L632.1 553.2 L633.9 552.5 L635.7 551.7 L637.4 550.9 L639.2 550.0 L641.0 549.2 L642.6 548.3 L644.2 547.4 L645.7 546.5 L647.1 545.6 L648.6 544.8 L650.0 543.9 L651.4 542.9 L652.9 542.0 L654.3 541.0 L655.7 540.0 L657.1 538.9 L658.5 537.9 L659.9 536.8 L661.2 535.6 L662.5 534.5 L663.8 533.3 L665.1 532.0 L666.3 530.7 L667.4 529.5 L668.5 528.2 L669.5 526.9 L670.5 525.6 L671.5 524.2 L672.4 522.9 L673.3 521.5 L674.2 520.1 L675.0 518.7 L675.8 517.2 L676.6 515.8 L677.3 514.3 L678.0 512.7 L678.7 511.2 L679.3 509.6 L680.0 508.0 L680.6 506.2 L681.2 504.2 L681.8 502.2 L682.3 500.1 L682.8 498.1 L683.3 496.0 L683.7 493.9 L684.1 491.9 L684.5 489.9 L684.8 488.0 L685.1 486.2 L685.4 484.5 L685.7 483.0 L685.9 481.7 L686.1 480.6 L686.3 479.7 Z" fill="url(#ag8)" stroke="#9d946e" stroke-width="1.5" stroke-linejoin="round"/>
<path d="M874.3 386.3 L878.8 383.6 L883.3 381.0 L887.8 378.3 L892.3 375.7 L896.8 373.0 L901.3 370.3 L905.8 367.7 L910.3 365.0 L914.8 362.3 L919.3 359.7 L923.8 357.0 L928.3 354.3 L932.8 351.7 L937.3 349.0 L941.8 346.3 L946.3 343.7 L950.8 341.0 L955.3 338.3 L959.8 335.7 L964.3 333.0 L968.8 330.3 L973.3 327.7 L977.8 325.0 L982.3 322.3 L986.8 319.7 L991.3 317.0 L995.8 314.3 L1000.3 311.7 L1004.8 309.0 L1019.6 316.0 L1031.6 283.5 L981.5 287.4 L996.2 294.4 L991.7 297.1 L987.2 299.7 L982.7 302.4 L978.2 305.0 L973.7 307.7 L969.2 310.4 L964.7 313.0 L960.2 315.7 L955.7 318.4 L951.2 321.0 L946.7 323.7 L942.2 326.4 L937.7 329.0 L933.2 331.7 L928.7 334.4 L924.2 337.0 L919.7 339.7 L915.2 342.4 L910.7 345.0 L906.2 347.7 L901.7 350.4 L897.2 353.0 L892.7 355.7 L888.2 358.4 L883.7 361.0 L879.2 363.7 L874.7 366.4 L870.2 369.0 L865.7 371.7 Z" fill="url(#ag9)" opacity="0.3" filter="url(#blur3)"/><path d="M874.3 380.3 L878.8 377.6 L883.3 375.0 L887.8 372.3 L892.3 369.7 L896.8 367.0 L901.3 364.3 L905.8 361.7 L910.3 359.0 L914.8 356.3 L919.3 353.7 L923.8 351.0 L928.3 348.3 L932.8 345.7 L937.3 343.0 L941.8 340.3 L946.3 337.7 L950.8 335.0 L955.3 332.3 L959.8 329.7 L964.3 327.0 L968.8 324.3 L973.3 321.7 L977.8 319.0 L982.3 316.3 L986.8 313.7 L991.3 311.0 L995.8 308.3 L1000.3 305.7 L1004.8 303.0 L1019.6 310.0 L1031.6 277.5 L981.5 281.4 L996.2 288.4 L991.7 291.1 L987.2 293.7 L982.7 296.4 L978.2 299.0 L973.7 301.7 L969.2 304.4 L964.7 307.0 L960.2 309.7 L955.7 312.4 L951.2 315.0 L946.7 317.7 L942.2 320.4 L937.7 323.0 L933.2 325.7 L928.7 328.4 L924.2 331.0 L919.7 333.7 L915.2 336.4 L910.7 339.0 L906.2 341.7 L901.7 344.4 L897.2 347.0 L892.7 349.7 L888.2 352.4 L883.7 355.0 L879.2 357.7 L874.7 360.4 L870.2 363.0 L865.7 365.7 Z" fill="url(#ag9)" stroke="#6e5eb2" stroke-width="1.5" stroke-linejoin="round"/>
<path d="M912.0 431.5 L920.1 431.5 L928.3 431.5 L936.4 431.5 L944.6 431.5 L952.7 431.5 L960.8 431.5 L969.0 431.5 L977.1 431.5 L985.2 431.5 L993.4 431.5 L1001.5 431.5 L1009.7 431.5 L1017.8 431.5 L1025.9 431.5 L1034.1 431.5 L1042.2 431.5 L1050.3 431.5 L1058.5 431.5 L1066.6 431.5 L1074.8 431.5 L1082.9 431.5 L1091.0 431.5 L1099.2 431.5 L1107.3 431.5 L1115.4 431.5 L1123.6 431.5 L1131.7 431.5 L1139.9 431.5 L1148.0 431.5 L1148.0 443.0 L1188.0 422.6 L1148.0 403.0 L1148.0 414.5 L1139.9 414.5 L1131.7 414.5 L1123.6 414.5 L1115.4 414.5 L1107.3 414.5 L1099.2 414.5 L1091.0 414.5 L1082.9 414.5 L1074.8 414.5 L1066.6 414.5 L1058.5 414.5 L1050.3 414.5 L1042.2 414.5 L1034.1 414.5 L1025.9 414.5 L1017.8 414.5 L1009.7 414.5 L1001.5 414.5 L993.4 414.5 L985.2 414.5 L977.1 414.5 L969.0 414.5 L960.8 414.5 L952.7 414.5 L944.6 414.5 L936.4 414.5 L928.3 414.5 L920.1 414.5 L912.0 414.5 Z" fill="url(#ag10)" opacity="0.3" filter="url(#blur3)"/><path d="M912.0 425.5 L920.1 425.5 L928.3 425.5 L936.4 425.5 L944.6 425.5 L952.7 425.5 L960.8 425.5 L969.0 425.5 L977.1 425.5 L985.2 425.5 L993.4 425.5 L1001.5 425.5 L1009.7 425.5 L1017.8 425.5 L1025.9 425.5 L1034.1 425.5 L1042.2 425.5 L1050.3 425.5 L1058.5 425.5 L1066.6 425.5 L1074.8 425.5 L1082.9 425.5 L1091.0 425.5 L1099.2 425.5 L1107.3 425.5 L1115.4 425.5 L1123.6 425.5 L1131.7 425.5 L1139.9 425.5 L1148.0 425.5 L1148.0 437.0 L1188.0 416.6 L1148.0 397.0 L1148.0 408.5 L1139.9 408.5 L1131.7 408.5 L1123.6 408.5 L1115.4 408.5 L1107.3 408.5 L1099.2 408.5 L1091.0 408.5 L1082.9 408.5 L1074.8 408.5 L1066.6 408.5 L1058.5 408.5 L1050.3 408.5 L1042.2 408.5 L1034.1 408.5 L1025.9 408.5 L1017.8 408.5 L1009.7 408.5 L1001.5 408.5 L993.4 408.5 L985.2 408.5 L977.1 408.5 L969.0 408.5 L960.8 408.5 L952.7 408.5 L944.6 408.5 L936.4 408.5 L928.3 408.5 L920.1 408.5 L912.0 408.5 Z" fill="url(#ag10)" stroke="#a98c80" stroke-width="1.5" stroke-linejoin="round"/>
<path d="M1065.3 601.5 L1059.1 597.7 L1053.0 593.8 L1046.8 589.9 L1040.6 586.1 L1034.5 582.2 L1028.3 578.4 L1022.1 574.5 L1016.0 570.6 L1009.8 566.8 L1003.7 562.9 L997.5 559.0 L991.3 555.2 L985.2 551.3 L979.0 547.5 L972.8 543.6 L966.7 539.7 L960.5 535.9 L954.3 532.0 L948.2 528.1 L942.0 524.3 L935.8 520.4 L929.7 516.6 L923.5 512.7 L917.3 508.8 L911.2 505.0 L905.0 501.1 L898.8 497.2 L892.7 493.4 L886.5 489.5 L902.3 484.3 L851.9 478.8 L860.2 511.8 L875.9 506.5 L882.1 510.3 L888.2 514.2 L894.4 518.1 L900.6 521.9 L906.7 525.8 L912.9 529.6 L919.1 533.5 L925.2 537.4 L931.4 541.2 L937.5 545.1 L943.7 549.0 L949.9 552.8 L956.0 556.7 L962.2 560.5 L968.4 564.4 L974.5 568.3 L980.7 572.1 L986.9 576.0 L993.0 579.9 L999.2 583.7 L1005.4 587.6 L1011.5 591.4 L1017.7 595.3 L1023.9 599.2 L1030.0 603.0 L1036.2 606.9 L1042.4 610.8 L1048.5 614.6 L1054.7 618.5 Z" fill="url(#ag11)" opacity="0.3" filter="url(#blur3)"/><path d="M1065.3 595.5 L1059.1 591.7 L1053.0 587.8 L1046.8 583.9 L1040.6 580.1 L1034.5 576.2 L1028.3 572.4 L1022.1 568.5 L1016.0 564.6 L1009.8 560.8 L1003.7 556.9 L997.5 553.0 L991.3 549.2 L985.2 545.3 L979.0 541.5 L972.8 537.6 L966.7 533.7 L960.5 529.9 L954.3 526.0 L948.2 522.1 L942.0 518.3 L935.8 514.4 L929.7 510.6 L923.5 506.7 L917.3 502.8 L911.2 499.0 L905.0 495.1 L898.8 491.2 L892.7 487.4 L886.5 483.5 L902.3 478.3 L851.9 472.8 L860.2 505.8 L875.9 500.5 L882.1 504.3 L888.2 508.2 L894.4 512.1 L900.6 515.9 L906.7 519.8 L912.9 523.6 L919.1 527.5 L925.2 531.4 L931.4 535.2 L937.5 539.1 L943.7 543.0 L949.9 546.8 L956.0 550.7 L962.2 554.5 L968.4 558.4 L974.5 562.3 L980.7 566.1 L986.9 570.0 L993.0 573.9 L999.2 577.7 L1005.4 581.6 L1011.5 585.4 L1017.7 589.3 L1023.9 593.2 L1030.0 597.0 L1036.2 600.9 L1042.4 604.8 L1048.5 608.6 L1054.7 612.5 Z" fill="url(#ag11)" stroke="#c4695b" stroke-width="1.5" stroke-linejoin="round"/>
<path d="M584.0 217.6 L583.5 218.7 L582.7 219.8 L581.4 220.9 L579.7 222.1 L497.2 270.7 L494.7 272.0 L492.2 272.9 L489.7 273.6 L487.2 273.9 L484.8 273.9 L482.3 273.6 L479.8 272.9 L477.3 272.0 L474.8 270.7 L392.3 222.1 L390.6 220.9 L389.3 219.8 L388.5 218.7 L388.0 217.6 L388.0 200.6 L388.5 201.7 L389.3 202.8 L390.6 203.9 L392.3 205.1 L474.8 253.7 L477.3 255.0 L479.8 255.9 L482.3 256.6 L484.8 256.9 L487.2 256.9 L489.7 256.6 L492.2 255.9 L494.7 255.0 L497.2 253.7 L579.7 205.1 L581.4 203.9 L582.7 202.8 L583.5 201.7 L584.0 200.6 Z" fill="#b6d6f0" stroke="#7296b8" stroke-width="1.6" stroke-linejoin="round"/>
<path d="M474.8 146.3 L477.3 145.0 L479.8 144.1 L482.3 143.4 L484.8 143.1 L487.2 143.1 L489.7 143.4 L492.2 144.1 L494.7 145.0 L497.2 146.3 L579.7 194.9 L581.4 196.1 L582.7 197.2 L583.5 198.3 L584.0 199.4 L584.0 200.6 L583.5 201.7 L582.7 202.8 L581.4 203.9 L579.7 205.1 L497.2 253.7 L494.7 255.0 L492.2 255.9 L489.7 256.6 L487.2 256.9 L484.8 256.9 L482.3 256.6 L479.8 255.9 L477.3 255.0 L474.8 253.7 L392.3 205.1 L390.6 203.9 L389.3 202.8 L388.5 201.7 L388.0 200.6 L388.0 199.4 L388.5 198.3 L389.3 197.2 L390.6 196.1 L392.3 194.9 Z" fill="url(#tg12)" stroke="#7296b8" stroke-width="1.6" stroke-linejoin="round"/>
<path d="M480.0 377.6 L479.6 378.7 L478.7 379.8 L477.4 381.0 L475.7 382.1 L350.9 456.1 L348.0 457.6 L345.2 458.7 L342.3 459.5 L339.4 459.9 L336.6 459.9 L333.7 459.5 L330.8 458.7 L328.0 457.6 L325.1 456.1 L200.3 382.1 L198.6 381.0 L197.3 379.8 L196.4 378.7 L196.0 377.6 L196.0 357.6 L196.4 358.7 L197.3 359.8 L198.6 361.0 L200.3 362.1 L325.1 436.1 L328.0 437.6 L330.8 438.7 L333.7 439.5 L336.6 439.9 L339.4 439.9 L342.3 439.5 L345.2 438.7 L348.0 437.6 L350.9 436.1 L475.7 362.1 L477.4 361.0 L478.7 359.8 L479.6 358.7 L480.0 357.6 Z" fill="#abdfd4" stroke="#55958a" stroke-width="1.6" stroke-linejoin="round"/>
<path d="M325.1 277.9 L328.0 276.4 L330.8 275.3 L333.7 274.5 L336.6 274.1 L339.4 274.1 L342.3 274.5 L345.2 275.3 L348.0 276.4 L350.9 277.9 L475.7 351.9 L477.4 353.0 L478.7 354.2 L479.6 355.3 L480.0 356.4 L480.0 357.6 L479.6 358.7 L478.7 359.8 L477.4 361.0 L475.7 362.1 L350.9 436.1 L348.0 437.6 L345.2 438.7 L342.3 439.5 L339.4 439.9 L336.6 439.9 L333.7 439.5 L330.8 438.7 L328.0 437.6 L325.1 436.1 L200.3 362.1 L198.6 361.0 L197.3 359.8 L196.4 358.7 L196.0 357.6 L196.0 356.4 L196.4 355.3 L197.3 354.2 L198.6 353.0 L200.3 351.9 Z" fill="url(#tg13)" stroke="#55958a" stroke-width="1.6" stroke-linejoin="round"/>
<path d="M260.5 535.5 L260.1 536.6 L259.4 537.6 L258.2 538.6 L256.7 539.7 L181.1 585.5 L178.6 586.8 L176.2 587.8 L173.7 588.5 L171.2 588.8 L168.8 588.8 L166.3 588.5 L163.8 587.8 L161.4 586.8 L158.9 585.5 L83.3 539.7 L81.8 538.6 L80.6 537.6 L79.9 536.6 L79.5 535.5 L79.5 518.5 L79.9 519.6 L80.6 520.6 L81.8 521.6 L83.3 522.7 L158.9 568.5 L161.4 569.8 L163.8 570.8 L166.3 571.5 L168.8 571.8 L171.2 571.8 L173.7 571.5 L176.2 570.8 L178.6 569.8 L181.1 568.5 L256.7 522.7 L258.2 521.6 L259.4 520.6 L260.1 519.6 L260.5 518.5 Z" fill="#cbe5a9" stroke="#7aa86c" stroke-width="1.6" stroke-linejoin="round"/>
<path d="M158.9 467.5 L161.4 466.2 L163.8 465.2 L166.3 464.5 L168.8 464.2 L171.2 464.2 L173.7 464.5 L176.2 465.2 L178.6 466.2 L181.1 467.5 L256.7 513.3 L258.2 514.4 L259.4 515.4 L260.1 516.4 L260.5 517.5 L260.5 518.5 L260.1 519.6 L259.4 520.6 L258.2 521.6 L256.7 522.7 L181.1 568.5 L178.6 569.8 L176.2 570.8 L173.7 571.5 L171.2 571.8 L168.8 571.8 L166.3 571.5 L163.8 570.8 L161.4 569.8 L158.9 568.5 L83.3 522.7 L81.8 521.6 L80.6 520.6 L79.9 519.6 L79.5 518.5 L79.5 517.5 L79.9 516.4 L80.6 515.4 L81.8 514.4 L83.3 513.3 Z" fill="url(#tg14)" stroke="#7aa86c" stroke-width="1.6" stroke-linejoin="round"/>
<path d="M614.5 611.5 L614.1 612.6 L613.4 613.6 L612.2 614.7 L610.7 615.7 L534.6 662.4 L532.1 663.8 L529.7 664.8 L527.2 665.5 L524.7 665.8 L522.3 665.8 L519.8 665.5 L517.3 664.8 L514.9 663.8 L512.4 662.4 L436.3 615.7 L434.8 614.7 L433.6 613.6 L432.9 612.6 L432.5 611.5 L432.5 594.5 L432.9 595.6 L433.6 596.6 L434.8 597.7 L436.3 598.7 L512.4 645.4 L514.9 646.8 L517.3 647.8 L519.8 648.5 L522.3 648.8 L524.7 648.8 L527.2 648.5 L529.7 647.8 L532.1 646.8 L534.6 645.4 L610.7 598.7 L612.2 597.7 L613.4 596.6 L614.1 595.6 L614.5 594.5 Z" fill="#f6dc8c" stroke="#c4a65a" stroke-width="1.6" stroke-linejoin="round"/>
<path d="M512.4 542.6 L514.9 541.2 L517.3 540.2 L519.8 539.5 L522.3 539.2 L524.7 539.2 L527.2 539.5 L529.7 540.2 L532.1 541.2 L534.6 542.6 L610.7 589.3 L612.2 590.3 L613.4 591.4 L614.1 592.4 L614.5 593.5 L614.5 594.5 L614.1 595.6 L613.4 596.6 L612.2 597.7 L610.7 598.7 L534.6 645.4 L532.1 646.8 L529.7 647.8 L527.2 648.5 L524.7 648.8 L522.3 648.8 L519.8 648.5 L517.3 647.8 L514.9 646.8 L512.4 645.4 L436.3 598.7 L434.8 597.7 L433.6 596.6 L432.9 595.6 L432.5 594.5 L432.5 593.5 L432.9 592.4 L433.6 591.4 L434.8 590.3 L436.3 589.3 Z" fill="url(#tg15)" stroke="#c4a65a" stroke-width="1.6" stroke-linejoin="round"/>
<path d="M1271.0 244.6 L1270.6 245.7 L1269.7 246.8 L1268.4 248.0 L1266.7 249.1 L1143.9 322.1 L1141.0 323.6 L1138.2 324.7 L1135.3 325.5 L1132.4 325.9 L1129.6 325.9 L1126.7 325.5 L1123.8 324.7 L1121.0 323.6 L1118.1 322.1 L995.3 249.1 L993.6 248.0 L992.3 246.8 L991.4 245.7 L991.0 244.6 L991.0 223.6 L991.4 224.7 L992.3 225.8 L993.6 227.0 L995.3 228.1 L1118.1 301.1 L1121.0 302.6 L1123.8 303.7 L1126.7 304.5 L1129.6 304.9 L1132.4 304.9 L1135.3 304.5 L1138.2 303.7 L1141.0 302.6 L1143.9 301.1 L1266.7 228.1 L1268.4 227.0 L1269.7 225.8 L1270.6 224.7 L1271.0 223.6 Z" fill="#c3a9ea" stroke="#8a74bb" stroke-width="1.6" stroke-linejoin="round"/>
<path d="M1118.1 144.9 L1121.0 143.4 L1123.8 142.3 L1126.7 141.5 L1129.6 141.1 L1132.4 141.1 L1135.3 141.5 L1138.2 142.3 L1141.0 143.4 L1143.9 144.9 L1266.7 217.9 L1268.4 219.0 L1269.7 220.2 L1270.6 221.3 L1271.0 222.4 L1271.0 223.6 L1270.6 224.7 L1269.7 225.8 L1268.4 227.0 L1266.7 228.1 L1143.9 301.1 L1141.0 302.6 L1138.2 303.7 L1135.3 304.5 L1132.4 304.9 L1129.6 304.9 L1126.7 304.5 L1123.8 303.7 L1121.0 302.6 L1118.1 301.1 L995.3 228.1 L993.6 227.0 L992.3 225.8 L991.4 224.7 L991.0 223.6 L991.0 222.4 L991.4 221.3 L992.3 220.2 L993.6 219.0 L995.3 217.9 Z" fill="url(#tg16)" stroke="#8a74bb" stroke-width="1.6" stroke-linejoin="round"/>
<path d="M1419.0 419.6 L1418.5 420.7 L1417.7 421.8 L1416.4 422.9 L1414.7 424.1 L1322.1 478.4 L1319.4 479.8 L1316.7 480.9 L1314.0 481.6 L1311.3 481.9 L1308.7 481.9 L1306.0 481.6 L1303.3 480.9 L1300.6 479.8 L1297.9 478.4 L1205.3 424.1 L1203.6 422.9 L1202.3 421.8 L1201.5 420.7 L1201.0 419.6 L1201.0 401.6 L1201.5 402.7 L1202.3 403.8 L1203.6 404.9 L1205.3 406.1 L1297.9 460.4 L1300.6 461.8 L1303.3 462.9 L1306.0 463.6 L1308.7 463.9 L1311.3 463.9 L1314.0 463.6 L1316.7 462.9 L1319.4 461.8 L1322.1 460.4 L1414.7 406.1 L1416.4 404.9 L1417.7 403.8 L1418.5 402.7 L1419.0 401.6 Z" fill="#f7bf8c" stroke="#c48a60" stroke-width="1.6" stroke-linejoin="round"/>
<path d="M1297.9 341.6 L1300.6 340.2 L1303.3 339.1 L1306.0 338.4 L1308.7 338.1 L1311.3 338.1 L1314.0 338.4 L1316.7 339.1 L1319.4 340.2 L1322.1 341.6 L1414.7 395.9 L1416.4 397.1 L1417.7 398.2 L1418.5 399.3 L1419.0 400.4 L1419.0 401.6 L1418.5 402.7 L1417.7 403.8 L1416.4 404.9 L1414.7 406.1 L1322.1 460.4 L1319.4 461.8 L1316.7 462.9 L1314.0 463.6 L1311.3 463.9 L1308.7 463.9 L1306.0 463.6 L1303.3 462.9 L1300.6 461.8 L1297.9 460.4 L1205.3 406.1 L1203.6 404.9 L1202.3 403.8 L1201.5 402.7 L1201.0 401.6 L1201.0 400.4 L1201.5 399.3 L1202.3 398.2 L1203.6 397.1 L1205.3 395.9 Z" fill="url(#tg17)" stroke="#c48a60" stroke-width="1.6" stroke-linejoin="round"/>
<path d="M1288.0 649.6 L1287.6 650.7 L1286.7 651.8 L1285.4 653.0 L1283.7 654.1 L1154.9 731.1 L1152.0 732.6 L1149.2 733.7 L1146.3 734.5 L1143.4 734.9 L1140.6 734.9 L1137.7 734.5 L1134.8 733.7 L1132.0 732.6 L1129.1 731.1 L1000.3 654.1 L998.6 653.0 L997.3 651.8 L996.4 650.7 L996.0 649.6 L996.0 628.6 L996.4 629.7 L997.3 630.8 L998.6 632.0 L1000.3 633.1 L1129.1 710.1 L1132.0 711.6 L1134.8 712.7 L1137.7 713.5 L1140.6 713.9 L1143.4 713.9 L1146.3 713.5 L1149.2 712.7 L1152.0 711.6 L1154.9 710.1 L1283.7 633.1 L1285.4 632.0 L1286.7 630.8 L1287.6 629.7 L1288.0 628.6 Z" fill="#f2a59c" stroke="#b46c66" stroke-width="1.6" stroke-linejoin="round"/>
<path d="M1129.1 545.9 L1132.0 544.4 L1134.8 543.3 L1137.7 542.5 L1140.6 542.1 L1143.4 542.1 L1146.3 542.5 L1149.2 543.3 L1152.0 544.4 L1154.9 545.9 L1283.7 622.9 L1285.4 624.0 L1286.7 625.2 L1287.6 626.3 L1288.0 627.4 L1288.0 628.6 L1287.6 629.7 L1286.7 630.8 L1285.4 632.0 L1283.7 633.1 L1154.9 710.1 L1152.0 711.6 L1149.2 712.7 L1146.3 713.5 L1143.4 713.9 L1140.6 713.9 L1137.7 713.5 L1134.8 712.7 L1132.0 711.6 L1129.1 710.1 L1000.3 633.1 L998.6 632.0 L997.3 630.8 L996.4 629.7 L996.0 628.6 L996.0 627.4 L996.4 626.3 L997.3 625.2 L998.6 624.0 L1000.3 622.9 Z" fill="url(#tg18)" stroke="#b46c66" stroke-width="1.6" stroke-linejoin="round"/>
<path d="M921.5 420.2 L921.0 421.6 L920.0 422.9 L918.4 424.3 L916.4 425.7 L765.5 515.8 L762.0 517.6 L758.6 519.0 L755.2 519.9 L751.7 520.3 L748.3 520.3 L744.8 519.9 L741.4 519.0 L738.0 517.6 L734.5 515.8 L583.6 425.7 L581.6 424.3 L580.0 422.9 L579.0 421.6 L578.5 420.2 L578.5 400.2 L579.0 401.6 L580.0 402.9 L581.6 404.3 L583.6 405.7 L734.5 495.8 L738.0 497.6 L741.4 499.0 L744.8 499.9 L748.3 500.3 L751.7 500.3 L755.2 499.9 L758.6 499.0 L762.0 497.6 L765.5 495.8 L916.4 405.7 L918.4 404.3 L920.0 402.9 L921.0 401.6 L921.5 400.2 Z" fill="url(#ag19)" stroke="#6480b6" stroke-width="1.6" stroke-linejoin="round"/>
<clipPath id="sclip"><path d="M921.5 420.2 L921.0 421.6 L920.0 422.9 L918.4 424.3 L916.4 425.7 L765.5 515.8 L762.0 517.6 L758.6 519.0 L755.2 519.9 L751.7 520.3 L748.3 520.3 L744.8 519.9 L741.4 519.0 L738.0 517.6 L734.5 515.8 L583.6 425.7 L581.6 424.3 L580.0 422.9 L579.0 421.6 L578.5 420.2 L578.5 400.2 L579.0 401.6 L580.0 402.9 L581.6 404.3 L583.6 405.7 L734.5 495.8 L738.0 497.6 L741.4 499.0 L744.8 499.9 L748.3 500.3 L751.7 500.3 L755.2 499.9 L758.6 499.0 L762.0 497.6 L765.5 495.8 L916.4 405.7 L918.4 404.3 L920.0 402.9 L921.0 401.6 L921.5 400.2 Z"/></clipPath>
<path clip-path="url(#sclip)" d="M943.5 394.1 L907.3 409.5 L907.3 439.5 L943.5 434.1 Z" fill="#7f9cd4" stroke="#6480b6" stroke-width="1.3"/>
<path d="M921.5 420.2 L921.0 421.6 L920.0 422.9 L918.4 424.3 L916.4 425.7 L765.5 515.8 L762.0 517.6 L758.6 519.0 L755.2 519.9 L751.7 520.3 L748.3 520.3 L744.8 519.9 L741.4 519.0 L738.0 517.6 L734.5 515.8 L583.6 425.7 L581.6 424.3 L580.0 422.9 L579.0 421.6 L578.5 420.2 L578.5 400.2 L579.0 401.6 L580.0 402.9 L581.6 404.3 L583.6 405.7 L734.5 495.8 L738.0 497.6 L741.4 499.0 L744.8 499.9 L748.3 500.3 L751.7 500.3 L755.2 499.9 L758.6 499.0 L762.0 497.6 L765.5 495.8 L916.4 405.7 L918.4 404.3 L920.0 402.9 L921.0 401.6 L921.5 400.2 Z" fill="none" stroke="#6480b6" stroke-width="1.6" stroke-linejoin="round"/>
<path d="M734.5 303.2 L738.0 301.4 L741.4 300.0 L744.8 299.1 L748.3 298.7 L751.7 298.7 L755.2 299.1 L758.6 300.0 L762.0 301.4 L765.5 303.2 L916.4 393.3 L918.4 394.7 L920.0 396.1 L921.0 397.4 L921.5 398.8 L921.5 400.2 L921.0 401.6 L920.0 402.9 L918.4 404.3 L916.4 405.7 L765.5 495.8 L762.0 497.6 L758.6 499.0 L755.2 499.9 L751.7 500.3 L748.3 500.3 L744.8 499.9 L741.4 499.0 L738.0 497.6 L734.5 495.8 L583.6 405.7 L581.6 404.3 L580.0 402.9 L579.0 401.6 L578.5 400.2 L578.5 398.8 L579.0 397.4 L580.0 396.1 L581.6 394.7 L583.6 393.3 Z" fill="#f4f7fd" stroke="#6480b6" stroke-width="1.6" stroke-linejoin="round"/>
<clipPath id="mclip"><path d="M734.5 303.2 L738.0 301.4 L741.4 300.0 L744.8 299.1 L748.3 298.7 L751.7 298.7 L755.2 299.1 L758.6 300.0 L762.0 301.4 L765.5 303.2 L916.4 393.3 L918.4 394.7 L920.0 396.1 L921.0 397.4 L921.5 398.8 L921.5 400.2 L921.0 401.6 L920.0 402.9 L918.4 404.3 L916.4 405.7 L765.5 495.8 L762.0 497.6 L758.6 499.0 L755.2 499.9 L751.7 500.3 L748.3 500.3 L744.8 499.9 L741.4 499.0 L738.0 497.6 L734.5 495.8 L583.6 405.7 L581.6 404.3 L580.0 402.9 L579.0 401.6 L578.5 400.2 L578.5 398.8 L579.0 397.4 L580.0 396.1 L581.6 394.7 L583.6 393.3 Z"/></clipPath>
<path clip-path="url(#mclip)" d="M750.0 287.7 L938.7 401.0 L915.8 414.7 L727.2 301.4 Z" fill="#86a5da" stroke="#6480b6" stroke-width="1.4"/>
<path d="M734.5 303.2 L738.0 301.4 L741.4 300.0 L744.8 299.1 L748.3 298.7 L751.7 298.7 L755.2 299.1 L758.6 300.0 L762.0 301.4 L765.5 303.2 L916.4 393.3 L918.4 394.7 L920.0 396.1 L921.0 397.4 L921.5 398.8 L921.5 400.2 L921.0 401.6 L920.0 402.9 L918.4 404.3 L916.4 405.7 L765.5 495.8 L762.0 497.6 L758.6 499.0 L755.2 499.9 L751.7 500.3 L748.3 500.3 L744.8 499.9 L741.4 499.0 L738.0 497.6 L734.5 495.8 L583.6 405.7 L581.6 404.3 L580.0 402.9 L579.0 401.6 L578.5 400.2 L578.5 398.8 L579.0 397.4 L580.0 396.1 L581.6 394.7 L583.6 393.3 Z" fill="none" stroke="#6480b6" stroke-width="1.6" stroke-linejoin="round"/>
<circle cx="752.2" cy="308.6" r="3.1" fill="#e99a93"/>
<circle cx="760.8" cy="313.8" r="3.1" fill="#efc58c"/>
<circle cx="769.4" cy="318.9" r="3.1" fill="#92d095"/>
<path d="M728.2 324.1 L729.9 323.3 L731.6 323.0 L733.3 323.3 L735.1 324.1 L877.2 409.4 L878.5 410.5 L879.0 411.5 L878.5 412.5 L877.2 413.6 L830.9 441.4 L829.2 442.1 L827.5 442.4 L825.8 442.1 L824.0 441.4 L681.9 356.0 L680.6 355.0 L680.2 353.9 L680.6 352.9 L681.9 351.9 Z" fill="#d9e5f5" stroke="#aabbd7" stroke-width="1.1"/>
<path d="M661.6 363.4 L662.9 362.8 L664.2 362.6 L665.5 362.8 L666.8 363.4 L704.5 386.1 L705.5 386.8 L705.8 387.6 L705.5 388.4 L704.5 389.2 L683.9 401.5 L682.6 402.1 L681.3 402.3 L680.0 402.1 L678.8 401.5 L641.0 378.9 L640.1 378.1 L639.7 377.3 L640.1 376.5 L641.0 375.8 Z" fill="#d9e5f5" stroke="#aabbd7" stroke-width="1.1"/>
<path d="M714.8 395.3 L716.1 394.8 L717.4 394.6 L718.6 394.8 L719.9 395.3 L757.7 418.0 L758.6 418.8 L758.9 419.5 L758.6 420.3 L757.7 421.1 L738.8 432.4 L737.5 433.0 L736.2 433.2 L734.9 433.0 L733.6 432.4 L695.9 409.8 L694.9 409.0 L694.6 408.2 L694.9 407.4 L695.9 406.7 Z" fill="#d9e5f5" stroke="#aabbd7" stroke-width="1.1"/>
<path d="M769.7 428.3 L771.0 427.7 L772.2 427.5 L773.5 427.7 L774.8 428.3 L811.9 450.5 L812.8 451.3 L813.1 452.1 L812.8 452.9 L811.9 453.6 L791.3 466.0 L790.0 466.6 L788.7 466.8 L787.4 466.6 L786.1 466.0 L749.1 443.7 L748.1 443.0 L747.8 442.2 L748.1 441.4 L749.1 440.7 Z" fill="#d9e5f5" stroke="#aabbd7" stroke-width="1.1"/>
<line x1="626.4" y1="384.5" x2="669.3" y2="410.3" stroke="#b9c6db" stroke-width="2.5" stroke-linecap="round"/>
<line x1="617.9" y1="389.7" x2="660.7" y2="415.4" stroke="#b9c6db" stroke-width="2.5" stroke-linecap="round"/>
<line x1="609.3" y1="394.8" x2="638.4" y2="412.3" stroke="#b9c6db" stroke-width="2.5" stroke-linecap="round"/>
<line x1="679.6" y1="416.5" x2="722.5" y2="442.2" stroke="#b9c6db" stroke-width="2.5" stroke-linecap="round"/>
<line x1="671.0" y1="421.6" x2="713.9" y2="447.4" stroke="#b9c6db" stroke-width="2.5" stroke-linecap="round"/>
<line x1="662.4" y1="426.8" x2="691.6" y2="444.3" stroke="#b9c6db" stroke-width="2.5" stroke-linecap="round"/>
<line x1="734.5" y1="449.4" x2="777.4" y2="475.2" stroke="#b9c6db" stroke-width="2.5" stroke-linecap="round"/>
<line x1="725.9" y1="454.6" x2="768.8" y2="480.3" stroke="#b9c6db" stroke-width="2.5" stroke-linecap="round"/>
<line x1="717.3" y1="459.7" x2="746.5" y2="477.2" stroke="#b9c6db" stroke-width="2.5" stroke-linecap="round"/>
<text x="388.5" y="90" font-size="28.8" font-weight="700" fill="#1c1c1e" text-anchor="middle" textLength="258" lengthAdjust="spacingAndGlyphs">INTERNAL LINKING</text>
<text x="388.5" y="115" font-size="19.8" font-weight="400" fill="#1c1c1e" text-anchor="middle" textLength="116" lengthAdjust="spacingAndGlyphs">(Within Site)</text>
<text x="1125.7" y="90.5" font-size="28.8" font-weight="700" fill="#1c1c1e" text-anchor="middle" textLength="266" lengthAdjust="spacingAndGlyphs">EXTERNAL LINKING</text>
<text x="1125.5" y="116.3" font-size="19.8" font-weight="400" fill="#1c1c1e" text-anchor="middle" textLength="209" lengthAdjust="spacingAndGlyphs">(To/From Other Sites)</text>
<text x="486.6" y="195.3" font-size="18.3" font-weight="700" fill="#1c1c1e" text-anchor="middle" textLength="109" lengthAdjust="spacingAndGlyphs">BLOG POST</text>
<text x="486.4" y="214.6" font-size="16.9" font-weight="400" fill="#1c1c1e" text-anchor="middle" textLength="122" lengthAdjust="spacingAndGlyphs">(Related Topic)</text>
<text x="338.6" y="351.4" font-size="18.5" font-weight="700" fill="#1c1c1e" text-anchor="middle" textLength="69.8" lengthAdjust="spacingAndGlyphs">HOME /</text>
<text x="338.2" y="373" font-size="18.5" font-weight="700" fill="#1c1c1e" text-anchor="middle" textLength="97.5" lengthAdjust="spacingAndGlyphs">HUB PAGE</text>
<text x="170.5" y="518" font-size="18.5" font-weight="700" fill="#1c1c1e" text-anchor="middle" textLength="95" lengthAdjust="spacingAndGlyphs">PRODUCT</text>
<text x="170.2" y="539.6" font-size="18.5" font-weight="700" fill="#1c1c1e" text-anchor="middle" textLength="50.4" lengthAdjust="spacingAndGlyphs">PAGE</text>
<text x="522.8" y="592.6" font-size="18.5" font-weight="700" fill="#1c1c1e" text-anchor="middle" textLength="104.5" lengthAdjust="spacingAndGlyphs">RESOURCE</text>
<text x="523" y="613" font-size="18.5" font-weight="700" fill="#1c1c1e" text-anchor="middle" textLength="59" lengthAdjust="spacingAndGlyphs">GUIDE</text>
<text x="1132.6" y="218.8" font-size="18.6" font-weight="700" fill="#1c1c1e" text-anchor="middle" textLength="196.3" lengthAdjust="spacingAndGlyphs">REPUTABLE SOURCE</text>
<text x="1132.9" y="239.1" font-size="16.1" font-weight="400" fill="#1c1c1e" text-anchor="middle" textLength="178.8" lengthAdjust="spacingAndGlyphs">(e.g., Industry Report,</text>
<text x="1132.2" y="257.3" font-size="16.1" font-weight="400" fill="#1c1c1e" text-anchor="middle" textLength="40.2" lengthAdjust="spacingAndGlyphs">.gov)</text>
<text x="1310" y="399.7" font-size="18.2" font-weight="700" fill="#1c1c1e" text-anchor="middle" textLength="101" lengthAdjust="spacingAndGlyphs">PARTNER /</text>
<text x="1311" y="420.6" font-size="18.2" font-weight="700" fill="#1c1c1e" text-anchor="middle" textLength="98" lengthAdjust="spacingAndGlyphs">TOOL SITE</text>
<text x="1142.5" y="628.1" font-size="18.9" font-weight="700" fill="#1c1c1e" text-anchor="middle" textLength="160.6" lengthAdjust="spacingAndGlyphs">AUTHORITY SITE</text>
<text x="1142.2" y="648.8" font-size="17.9" font-weight="400" fill="#1c1c1e" text-anchor="middle" textLength="105.5" lengthAdjust="spacingAndGlyphs">(High Trust)</text>
<text x="750.5" y="549.8" font-size="18.2" font-weight="700" fill="#1c1c1e" text-anchor="middle" textLength="141.5" lengthAdjust="spacingAndGlyphs">MAIN WEBSITE</text>
<text x="750" y="568.9" font-size="17.3" font-weight="400" fill="#1c1c1e" text-anchor="middle" textLength="128" lengthAdjust="spacingAndGlyphs">(Your Domain)</text>
<text x="153.2" y="239.7" font-size="17.0" font-weight="700" fill="#1c1c1e" text-anchor="middle" textLength="90.7" lengthAdjust="spacingAndGlyphs">IMPROVED</text>
<text x="153.2" y="258.9" font-size="17.0" font-weight="700" fill="#1c1c1e" text-anchor="middle" textLength="120.5" lengthAdjust="spacingAndGlyphs">STRUCTURE &amp;</text>
<text x="153.2" y="278.5" font-size="17.0" font-weight="700" fill="#1c1c1e" text-anchor="middle" textLength="93.4" lengthAdjust="spacingAndGlyphs">CRAWLING</text>
<text x="654.2" y="157" font-size="17.0" font-weight="700" fill="#1c1c1e" text-anchor="middle" textLength="112.6" lengthAdjust="spacingAndGlyphs">DISTRIBUTES</text>
<text x="654.2" y="176" font-size="17.0" font-weight="700" fill="#1c1c1e" text-anchor="middle" textLength="100.3" lengthAdjust="spacingAndGlyphs">AUTHORITY</text>
<text x="1363.5" y="270.8" font-size="17.0" font-weight="700" fill="#1c1c1e" text-anchor="middle" textLength="61" lengthAdjust="spacingAndGlyphs">BUILDS</text>
<text x="1363.5" y="289.8" font-size="17.0" font-weight="700" fill="#1c1c1e" text-anchor="middle" textLength="121.5" lengthAdjust="spacingAndGlyphs">CREDIBILITY &amp;</text>
<text x="1363.5" y="308.8" font-size="17.0" font-weight="700" fill="#1c1c1e" text-anchor="middle" textLength="56.3" lengthAdjust="spacingAndGlyphs">TRUST</text>
<text x="170.2" y="703.8" font-size="17.0" font-weight="700" fill="#1c1c1e" text-anchor="middle" textLength="90" lengthAdjust="spacingAndGlyphs">IMPROVED</text>
<text x="170.2" y="723" font-size="17.0" font-weight="700" fill="#1c1c1e" text-anchor="middle" textLength="120" lengthAdjust="spacingAndGlyphs">STRUCTURE &amp;</text>
<text x="170.2" y="742.6" font-size="17.0" font-weight="700" fill="#1c1c1e" text-anchor="middle" textLength="92.6" lengthAdjust="spacingAndGlyphs">CRAWLING</text>
<text x="652.6" y="702.3" font-size="17.0" font-weight="700" fill="#1c1c1e" text-anchor="middle" textLength="112.7" lengthAdjust="spacingAndGlyphs">DISTRIBUTES</text>
<text x="652.6" y="721.8" font-size="17.0" font-weight="700" fill="#1c1c1e" text-anchor="middle" textLength="101" lengthAdjust="spacingAndGlyphs">AUTHORITY</text>
<text x="1350.7" y="702.3" font-size="17.0" font-weight="700" fill="#1c1c1e" text-anchor="middle" textLength="80.5" lengthAdjust="spacingAndGlyphs">EXPANDS</text>
<text x="1350.7" y="721.9" font-size="17.0" font-weight="700" fill="#1c1c1e" text-anchor="middle" textLength="57.7" lengthAdjust="spacingAndGlyphs">REACH</text>
<text x="616" y="280.4" font-size="16.4" font-weight="400" fill="#1c1c1e" text-anchor="middle" textLength="92.6" lengthAdjust="spacingAndGlyphs">Descriptive</text>
<text x="616" y="299.6" font-size="16.4" font-weight="400" fill="#1c1c1e" text-anchor="middle" textLength="99.4" lengthAdjust="spacingAndGlyphs">Anchor Text</text>
<text x="884.4" y="295.7" font-size="16.4" font-weight="400" fill="#1c1c1e" text-anchor="middle" textLength="119" lengthAdjust="spacingAndGlyphs">Outbound Link</text>
<text x="884.4" y="313.3" font-size="16.4" font-weight="400" fill="#1c1c1e" text-anchor="middle" textLength="114" lengthAdjust="spacingAndGlyphs">(Cites Source)</text>
<text x="1051.5" y="379.4" font-size="16.4" font-weight="400" fill="#1c1c1e" text-anchor="middle" textLength="120" lengthAdjust="spacingAndGlyphs">Outbound Link</text>
<text x="1051.5" y="396.5" font-size="16.4" font-weight="400" fill="#1c1c1e" text-anchor="middle" textLength="104.6" lengthAdjust="spacingAndGlyphs">(Adds Value)</text>
<text x="307.1" y="484.8" font-size="16.4" font-weight="400" fill="#1c1c1e" text-anchor="middle" textLength="94" lengthAdjust="spacingAndGlyphs">Descriptive</text>
<text x="307.1" y="504.2" font-size="16.4" font-weight="400" fill="#1c1c1e" text-anchor="middle" textLength="99.3" lengthAdjust="spacingAndGlyphs">Anchor Text</text>
<text x="458.7" y="501.6" font-size="16.4" font-weight="400" fill="#1c1c1e" text-anchor="middle" textLength="87.7" lengthAdjust="spacingAndGlyphs">Navigation</text>
<text x="458.7" y="520.7" font-size="16.4" font-weight="400" fill="#1c1c1e" text-anchor="middle" textLength="38.2" lengthAdjust="spacingAndGlyphs">Flow</text>
<text x="582.5" y="503.1" font-size="16.4" font-weight="400" fill="#1c1c1e" text-anchor="middle" textLength="107.4" lengthAdjust="spacingAndGlyphs">Topic Cluster</text>
<text x="582.5" y="522.4" font-size="16.4" font-weight="400" fill="#1c1c1e" text-anchor="middle" textLength="95" lengthAdjust="spacingAndGlyphs">Connection</text>
<text x="1017.2" y="510.7" font-size="16.4" font-weight="400" fill="#1c1c1e" text-anchor="middle" textLength="105.6" lengthAdjust="spacingAndGlyphs">Inbound Link</text>
<text x="1017.2" y="529.4" font-size="16.4" font-weight="400" fill="#1c1c1e" text-anchor="middle" textLength="79.4" lengthAdjust="spacingAndGlyphs">(Backlink)</text>
<path d="M137.7 153.5 L140.3 152.6 L140.6 147.0 L150.4 147.0 L150.7 152.6 L153.3 153.5 L154.1 153.8 L156.6 155.1 L160.8 151.2 L167.8 158.2 L163.9 162.4 L165.2 164.9 L165.5 165.7 L166.4 168.3 L172.0 168.6 L172.0 178.4 L166.4 178.7 L165.5 181.3 L165.2 182.1 L163.9 184.6 L167.8 188.8 L160.8 195.8 L156.6 191.9 L154.1 193.2 L153.3 193.5 L150.7 194.4 L150.4 200.0 L140.6 200.0 L140.3 194.4 L137.7 193.5 L136.9 193.2 L134.4 191.9 L130.2 195.8 L123.2 188.8 L127.1 184.6 L125.8 182.1 L125.5 181.3 L124.6 178.7 L119.0 178.4 L119.0 168.6 L124.6 168.3 L125.5 165.7 L125.8 164.9 L127.1 162.4 L123.2 158.2 L130.2 151.2 L134.4 155.1 L136.9 153.8 Z" fill="#a2b5de" stroke="#34405e" stroke-width="1.5" stroke-linejoin="round"/>
<circle cx="143.7" cy="173" r="12.5" fill="#f2f7fc" stroke="#34405e" stroke-width="1.4"/>
<line x1="168" y1="193" x2="172" y2="197" stroke="#34405e" stroke-width="5" />
<line x1="168" y1="193" x2="172" y2="197" stroke="#8a9ab8" stroke-width="3" />
<line x1="173" y1="198" x2="184" y2="209.5" stroke="#34405e" stroke-width="8.5" stroke-linecap="round"/>
<line x1="173" y1="198" x2="184" y2="209.5" stroke="#efb27c" stroke-width="5.8" stroke-linecap="round"/>
<circle cx="155.6" cy="181.8" r="16.6" fill="#9db1dd" stroke="#34405e" stroke-width="1.5"/>
<circle cx="155.6" cy="181.8" r="12.6" fill="#c4dcf4" stroke="#34405e" stroke-width="1.4"/>
<line x1="180" y1="657.5" x2="184" y2="661.5" stroke="#34405e" stroke-width="5"/>
<line x1="185" y1="662.5" x2="195.5" y2="673.5" stroke="#34405e" stroke-width="9" stroke-linecap="round"/>
<line x1="185" y1="662.5" x2="195.5" y2="673.5" stroke="#efc38e" stroke-width="6.2" stroke-linecap="round"/>
<circle cx="164.2" cy="642.5" r="21.4" fill="#a9bde1" stroke="#34405e" stroke-width="1.5"/>
<circle cx="164.2" cy="642.5" r="15.4" fill="#eef3fa" stroke="#34405e" stroke-width="1.4"/>
<path d="M171.9 639.5 L172.2 640.2 L175.0 640.2 L175.0 644.8 L172.2 644.8 L171.9 645.5 L171.8 645.8 L171.5 646.5 L173.4 648.5 L170.2 651.7 L168.2 649.8 L167.5 650.1 L167.2 650.2 L166.5 650.5 L166.5 653.3 L161.9 653.3 L161.9 650.5 L161.2 650.2 L160.9 650.1 L160.2 649.8 L158.2 651.7 L155.0 648.5 L156.9 646.5 L156.6 645.8 L156.5 645.5 L156.2 644.8 L153.4 644.8 L153.4 640.2 L156.2 640.2 L156.5 639.5 L156.6 639.2 L156.9 638.5 L155.0 636.5 L158.2 633.3 L160.2 635.2 L160.9 634.9 L161.2 634.8 L161.9 634.5 L161.9 631.7 L166.5 631.7 L166.5 634.5 L167.2 634.8 L167.5 634.9 L168.2 635.2 L170.2 633.3 L173.4 636.5 L171.5 638.5 L171.8 639.2 Z" fill="#e2b27c" stroke="#5a4a3a" stroke-width="1.1" stroke-linejoin="round"/>
<circle cx="164.2" cy="642.5" r="3.8" fill="#f6f3ee" stroke="#5a4a3a" stroke-width="1"/>
<rect x="627.4" y="115.8" width="10.0" height="14.799999999999997" rx="1" fill="#f2a496" stroke="#3d4a4a" stroke-width="1.3"/>
<rect x="641.6" y="108.1" width="10.299999999999955" height="22.5" rx="1" fill="#f5cf72" stroke="#3d4a4a" stroke-width="1.3"/>
<rect x="656.1" y="103.2" width="9.799999999999955" height="27.39999999999999" rx="1" fill="#82cc9c" stroke="#3d4a4a" stroke-width="1.3"/>
<rect x="670.5" y="91.3" width="9.899999999999977" height="39.3" rx="1" fill="#63bf9f" stroke="#3d4a4a" stroke-width="1.3"/>
<path d="M629 104 L647 88 L654 95 L672 79" fill="none" stroke="#2f5a4a" stroke-width="6.6" stroke-linejoin="miter" stroke-linecap="butt"/>
<path d="M629 104 L647 88 L654 95 L672 79" fill="none" stroke="#6cc4a2" stroke-width="4" stroke-linejoin="miter" stroke-linecap="butt"/>
<path d="M667.0 75.0 L681.0 70.5 L676.5 84.5 Z" fill="#6cc4a2" stroke="#2f5a4a" stroke-width="1.3" stroke-linejoin="round"/>
<rect x="626.3" y="662.5" width="9.900000000000091" height="14.0" rx="1" fill="#f6b48e" stroke="#3d4a4a" stroke-width="1.3"/>
<rect x="640.3" y="653.5" width="10.200000000000045" height="23.0" rx="1" fill="#f5a985" stroke="#3d4a4a" stroke-width="1.3"/>
<rect x="654.4" y="650.3" width="10.100000000000023" height="26.200000000000045" rx="1" fill="#80d0a2" stroke="#3d4a4a" stroke-width="1.3"/>
<rect x="668.4" y="639.2" width="10.0" height="37.299999999999955" rx="1" fill="#7ab6e6" stroke="#3d4a4a" stroke-width="1.3"/>
<path d="M628.5 651 L645.5 634.5 L654 642.5 L671.5 626.5" fill="none" stroke="#2f5a4a" stroke-width="6.6" stroke-linejoin="miter" stroke-linecap="butt"/>
<path d="M628.5 651 L645.5 634.5 L654 642.5 L671.5 626.5" fill="none" stroke="#72c8a4" stroke-width="4" stroke-linejoin="miter" stroke-linecap="butt"/>
<path d="M666.5 622.5 L680.0 618.5 L675.5 632.0 Z" fill="#72c8a4" stroke="#2f5a4a" stroke-width="1.3" stroke-linejoin="round"/>
<path d="M855.5 225.5 L858 225.5 L858 258 L884.8 265 L911.5 258 L911.5 225.5 L914.5 225.5 Q915.5 225.5 915.5 227 L915.5 265 Q915.5 266.3 914 266.3 L894 266.3 L884.8 271.5 L875.6 266.3 L856 266.3 Q854.5 266.3 854.5 265 L854.5 227 Q854.5 225.5 855.5 225.5 Z" fill="#8c9fd6" stroke="#34405e" stroke-width="1.4" stroke-linejoin="round"/>
<path d="M859.3 221.2 Q873 222 884.8 228.5 L884.8 265.5 Q873 259.5 859.3 259.2 Z" fill="#eef2fa" stroke="#34405e" stroke-width="1.4" stroke-linejoin="round"/>
<path d="M910.5 221.2 Q897 222 884.8 228.5 L884.8 265.5 Q897 259.5 910.5 259.2 Z" fill="#eef2fa" stroke="#34405e" stroke-width="1.4" stroke-linejoin="round"/>
<path d="M864 232 Q872 231.5 880.5 234.5" fill="none" stroke="#5a6680" stroke-width="1"/>
<path d="M905.5 232 Q897.5 231.5 889 234.5" fill="none" stroke="#5a6680" stroke-width="1"/>
<path d="M864 238 Q872 237.5 880.5 240.5" fill="none" stroke="#5a6680" stroke-width="1"/>
<path d="M905.5 238 Q897.5 237.5 889 240.5" fill="none" stroke="#5a6680" stroke-width="1"/>
<path d="M864 244 Q872 243.5 880.5 246.5" fill="none" stroke="#5a6680" stroke-width="1"/>
<path d="M905.5 244 Q897.5 243.5 889 246.5" fill="none" stroke="#5a6680" stroke-width="1"/>
<path d="M864 250 Q872 249.5 880.5 252.5" fill="none" stroke="#5a6680" stroke-width="1"/>
<path d="M905.5 250 Q897.5 249.5 889 252.5" fill="none" stroke="#5a6680" stroke-width="1"/>
<path d="M1345 203.4 L1356 203.4 L1361 201.5 L1382.5 203 L1391.8 221.5 L1388 226 L1384 232 L1378 237.5 L1370 242 L1362 243.8 L1356 243.2 L1345 236 L1338.4 225.5 L1335.8 221 Z" fill="#f5c59c" stroke="#4a3530" stroke-width="1.3" stroke-linejoin="round"/>
<ellipse cx="1381.5" cy="225.3" rx="7.2" ry="3.2" transform="rotate(27 1381.5 225.3)" fill="#f7d0ae" stroke="#4a3530" stroke-width="1.1"/>
<ellipse cx="1376.8" cy="231" rx="7.4" ry="3.3" transform="rotate(27 1376.8 231)" fill="#f7d0ae" stroke="#4a3530" stroke-width="1.1"/>
<ellipse cx="1371" cy="236.2" rx="7.2" ry="3.2" transform="rotate(27 1371 236.2)" fill="#f7d0ae" stroke="#4a3530" stroke-width="1.1"/>
<ellipse cx="1364.6" cy="240.2" rx="5.6" ry="3.0" transform="rotate(27 1364.6 240.2)" fill="#f7d0ae" stroke="#4a3530" stroke-width="1.1"/>
<ellipse cx="1342.8" cy="228.2" rx="3.3" ry="4.9" transform="rotate(-48 1342.8 228.2)" fill="#f4c9a8" stroke="#4a3530" stroke-width="1.2"/>
<ellipse cx="1347.4" cy="232.6" rx="3.3" ry="4.9" transform="rotate(-48 1347.4 232.6)" fill="#f4c9a8" stroke="#4a3530" stroke-width="1.2"/>
<ellipse cx="1352.3" cy="236.4" rx="3.3" ry="4.8" transform="rotate(-48 1352.3 236.4)" fill="#f4c9a8" stroke="#4a3530" stroke-width="1.2"/>
<ellipse cx="1357.6" cy="240" rx="3.2" ry="4.3" transform="rotate(-48 1357.6 240)" fill="#f4c9a8" stroke="#4a3530" stroke-width="1.2"/>
<path d="M1380.5 203.1 L1361.1 201.5 Q1353 205 1351.4 209.9 Q1349.8 214 1352.5 214.8 Q1356 215.5 1360.5 211.8 Q1362.5 210.8 1364.3 210.9 L1385.5 223.5" fill="#f8d2b0" stroke="#4a3530" stroke-width="1.3" stroke-linejoin="round"/>
<path d="M1338.3 195.9 L1345.6 199.9 L1334.8 222.6 L1327 218.6 Z" fill="#7f9fe0" stroke="#2f3b66" stroke-width="1.4" stroke-linejoin="round"/>
<path d="M1381.6 198.8 L1388.2 195.5 L1400.7 219 L1393.4 222.6 Z" fill="#ef8a80" stroke="#5a2e2e" stroke-width="1.4" stroke-linejoin="round"/>
<path d="M917.2 549.4 Q906 557 893.6 558 L894 572 Q897 592 917.5 603.7 Q938 592 941 572 L941 558 Q929 557 917.2 549.4 Z" fill="#8fa3da" stroke="#26335f" stroke-width="1.6" stroke-linejoin="round"/>
<clipPath id="shc"><path d="M917.2 556.7 Q908 562 899.5 562.7 L900 574 Q903 589 917.5 597.7 Q932 589 935 574 L935 562.7 Q926 562 917.2 556.7 Z"/></clipPath>
<g clip-path="url(#shc)"><rect x="898" y="555" width="19.5" height="23" fill="#f5c06e"/><rect x="917.5" y="555" width="19" height="23" fill="#8ea7dc"/><rect x="898" y="578" width="19.5" height="21" fill="#8ea7dc"/><rect x="917.5" y="578" width="19" height="21" fill="#f5c06e"/></g>
<path d="M917.2 556.7 Q908 562 899.5 562.7 L900 574 Q903 589 917.5 597.7 Q932 589 935 574 L935 562.7 Q926 562 917.2 556.7 Z" fill="none" stroke="#26335f" stroke-width="1.4" stroke-linejoin="round"/>
<circle cx="1343.7" cy="653.4" r="23.1" fill="#90bbe8" stroke="#2b4f85" stroke-width="1.7"/>
<ellipse cx="1343.7" cy="653.4" rx="12" ry="23.1" fill="none" stroke="#2b4f85" stroke-width="1.5"/>
<line x1="1343.7" y1="630.3" x2="1343.7" y2="676.5" stroke="#2b4f85" stroke-width="1.5"/>
<line x1="1320.6000000000001" y1="653.4" x2="1366.8" y2="653.4" stroke="#2b4f85" stroke-width="1.5"/>
<path d="M1326.5 638.5 Q1343.7 648 1361 638.5" fill="none" stroke="#2b4f85" stroke-width="1.5"/>
<path d="M1326.5 668.3 Q1343.7 658.8 1361 668.3" fill="none" stroke="#2b4f85" stroke-width="1.5"/>
<path d="M1358.6 628.8 A10.5 10.5 0 0 1 1369.1 639.3" fill="none" stroke="#5a7391" stroke-width="2.1" stroke-linecap="round"/>
<path d="M1358.6 622.5 A16.8 16.8 0 0 1 1375.3999999999999 639.3" fill="none" stroke="#5a7391" stroke-width="2.1" stroke-linecap="round"/>
<path d="M1358.6 616.3 A23 23 0 0 1 1381.6 639.3" fill="none" stroke="#5a7391" stroke-width="2.1" stroke-linecap="round"/>
<path d="M1440 735 Q1446 753 1464 759 Q1446 765 1440 783 Q1434 765 1416 759 Q1434 753 1440 735 Z" fill="#ffffff" opacity="0.45"/>
</svg>
</body></html>
